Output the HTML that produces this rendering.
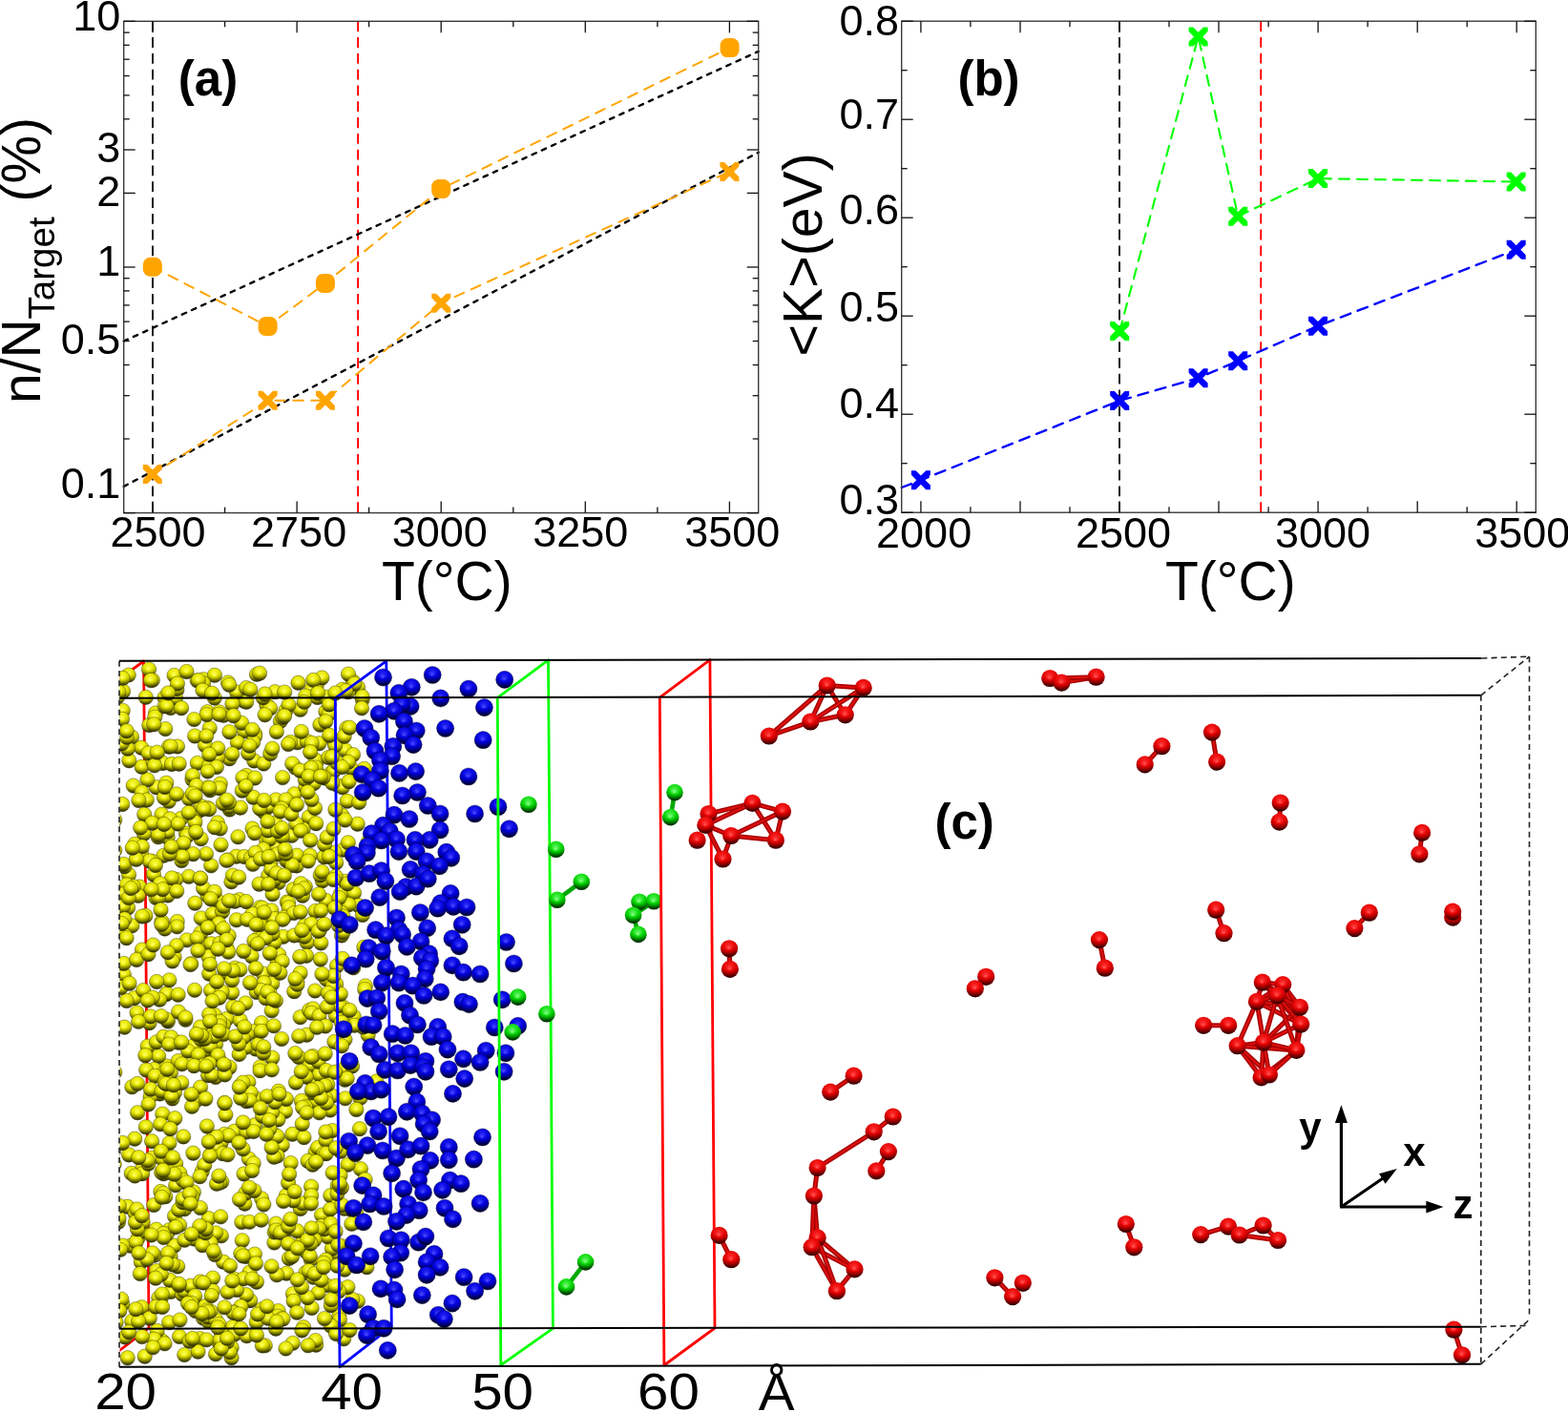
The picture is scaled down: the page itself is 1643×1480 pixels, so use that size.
<!DOCTYPE html>
<html><head><meta charset="utf-8"><title>Figure</title>
<style>html,body{margin:0;padding:0;background:#fff;overflow:hidden;}svg{display:block;}</style>
</head><body>
<svg width="1643" height="1480" viewBox="0 0 1643 1480">
<defs>
<radialGradient id="gy" cx="0.5" cy="-0.5" r="1.5" fx="0.47" fy="0.5"><stop offset="0" stop-color="#ffff78"/><stop offset="0.1" stop-color="#f4f428"/><stop offset="0.2" stop-color="#e4e404"/><stop offset="0.35" stop-color="#c4c400"/><stop offset="0.5" stop-color="#9a9a00"/><stop offset="0.65" stop-color="#727200"/><stop offset="0.82" stop-color="#484800"/><stop offset="1" stop-color="#282800"/></radialGradient>
<radialGradient id="gb" cx="0.5" cy="-0.5" r="1.5" fx="0.47" fy="0.5"><stop offset="0" stop-color="#5050ff"/><stop offset="0.1" stop-color="#1c1cf0"/><stop offset="0.2" stop-color="#0404e0"/><stop offset="0.35" stop-color="#0000c0"/><stop offset="0.5" stop-color="#000096"/><stop offset="0.65" stop-color="#00006e"/><stop offset="0.82" stop-color="#000044"/><stop offset="1" stop-color="#000024"/></radialGradient>
<radialGradient id="gr" cx="0.5" cy="-0.5" r="1.5" fx="0.47" fy="0.5"><stop offset="0" stop-color="#ff5a5a"/><stop offset="0.1" stop-color="#f82020"/><stop offset="0.2" stop-color="#e80808"/><stop offset="0.35" stop-color="#c80000"/><stop offset="0.5" stop-color="#a00000"/><stop offset="0.65" stop-color="#780000"/><stop offset="0.82" stop-color="#4c0000"/><stop offset="1" stop-color="#2a0000"/></radialGradient>
<radialGradient id="gg" cx="0.5" cy="-0.5" r="1.5" fx="0.47" fy="0.5"><stop offset="0" stop-color="#90ff90"/><stop offset="0.1" stop-color="#40ec40"/><stop offset="0.2" stop-color="#10dc10"/><stop offset="0.35" stop-color="#00bc00"/><stop offset="0.5" stop-color="#009400"/><stop offset="0.65" stop-color="#006800"/><stop offset="0.82" stop-color="#004000"/><stop offset="1" stop-color="#002200"/></radialGradient>
<clipPath id="cbox"><rect x="125.5" y="660" width="1500" height="800"/></clipPath>
</defs>
<rect width="1643" height="1480" fill="#fff"/>
<g id="pa">
<line x1="160" y1="22.3" x2="160" y2="537.6" stroke="#111" stroke-width="1.9" stroke-dasharray="10.8 6"/>
<line x1="375.1" y1="22.3" x2="375.1" y2="537.6" stroke="#f00" stroke-width="1.9" stroke-dasharray="10.8 6"/>
<polyline points="129.7,357.6 794.7,53.9" fill="none" stroke="#000" stroke-width="2.4" stroke-dasharray="4.6 6.6" stroke-linecap="round" stroke-linejoin="round"/>
<polyline points="129.7,509.9 794.7,159.8" fill="none" stroke="#000" stroke-width="2.4" stroke-dasharray="4.6 6.6" stroke-linecap="round" stroke-linejoin="round"/>
<polyline points="159.8,279.8 280.6,342 340.9,296.9 462.2,198 764.6,50.1" fill="none" stroke="#ffa500" stroke-width="2.0" stroke-dasharray="10.5 8.4" stroke-linecap="round" stroke-linejoin="round"/>
<polyline points="159.8,497.1 280.6,419.8 340.9,419.8 462.3,317.7 764.4,180" fill="none" stroke="#ffa500" stroke-width="2.0" stroke-dasharray="10.5 8.4" stroke-linecap="round" stroke-linejoin="round"/>
<rect x="149.8" y="269.8" width="20" height="20" rx="7.5" fill="#ffa500"/>
<rect x="270.6" y="332" width="20" height="20" rx="7.5" fill="#ffa500"/>
<rect x="330.9" y="286.9" width="20" height="20" rx="7.5" fill="#ffa500"/>
<rect x="452.2" y="188" width="20" height="20" rx="7.5" fill="#ffa500"/>
<rect x="754.6" y="40.1" width="20" height="20" rx="7.5" fill="#ffa500"/>
<polygon points="149.8,487.1 154.4,487.1 159.8,492.5 165.2,487.1 169.8,487.1 169.8,491.7 164.4,497.1 169.8,502.5 169.8,507.1 165.2,507.1 159.8,501.7 154.4,507.1 149.8,507.1 149.8,502.5 155.2,497.1 149.8,491.7" fill="#ffa500"/>
<polygon points="270.6,409.8 275.2,409.8 280.6,415.2 286,409.8 290.6,409.8 290.6,414.4 285.2,419.8 290.6,425.2 290.6,429.8 286,429.8 280.6,424.4 275.2,429.8 270.6,429.8 270.6,425.2 276,419.8 270.6,414.4" fill="#ffa500"/>
<polygon points="330.9,409.8 335.5,409.8 340.9,415.2 346.3,409.8 350.9,409.8 350.9,414.4 345.5,419.8 350.9,425.2 350.9,429.8 346.3,429.8 340.9,424.4 335.5,429.8 330.9,429.8 330.9,425.2 336.3,419.8 330.9,414.4" fill="#ffa500"/>
<polygon points="452.3,307.7 456.9,307.7 462.3,313.1 467.7,307.7 472.3,307.7 472.3,312.3 466.9,317.7 472.3,323.1 472.3,327.7 467.7,327.7 462.3,322.3 456.9,327.7 452.3,327.7 452.3,323.1 457.7,317.7 452.3,312.3" fill="#ffa500"/>
<polygon points="754.4,170 759,170 764.4,175.4 769.8,170 774.4,170 774.4,174.6 769,180 774.4,185.4 774.4,190 769.8,190 764.4,184.6 759,190 754.4,190 754.4,185.4 759.8,180 754.4,174.6" fill="#ffa500"/>
<rect x="129.7" y="22.3" width="665" height="515.3" fill="none" stroke="#3a3a3a" stroke-width="1.4"/>
<line x1="160" y1="537.6" x2="160" y2="525.6" stroke="#111" stroke-width="1.3" />
<line x1="160" y1="22.3" x2="160" y2="34.3" stroke="#111" stroke-width="1.3" />
<line x1="235.6" y1="537.6" x2="235.6" y2="531.6" stroke="#111" stroke-width="1.3" />
<line x1="235.6" y1="22.3" x2="235.6" y2="28.3" stroke="#111" stroke-width="1.3" />
<line x1="311.1" y1="537.6" x2="311.1" y2="525.6" stroke="#111" stroke-width="1.3" />
<line x1="311.1" y1="22.3" x2="311.1" y2="34.3" stroke="#111" stroke-width="1.3" />
<line x1="386.6" y1="537.6" x2="386.6" y2="531.6" stroke="#111" stroke-width="1.3" />
<line x1="386.6" y1="22.3" x2="386.6" y2="28.3" stroke="#111" stroke-width="1.3" />
<line x1="462.2" y1="537.6" x2="462.2" y2="525.6" stroke="#111" stroke-width="1.3" />
<line x1="462.2" y1="22.3" x2="462.2" y2="34.3" stroke="#111" stroke-width="1.3" />
<line x1="537.8" y1="537.6" x2="537.8" y2="531.6" stroke="#111" stroke-width="1.3" />
<line x1="537.8" y1="22.3" x2="537.8" y2="28.3" stroke="#111" stroke-width="1.3" />
<line x1="613.3" y1="537.6" x2="613.3" y2="525.6" stroke="#111" stroke-width="1.3" />
<line x1="613.3" y1="22.3" x2="613.3" y2="34.3" stroke="#111" stroke-width="1.3" />
<line x1="688.9" y1="537.6" x2="688.9" y2="531.6" stroke="#111" stroke-width="1.3" />
<line x1="688.9" y1="22.3" x2="688.9" y2="28.3" stroke="#111" stroke-width="1.3" />
<line x1="764.4" y1="537.6" x2="764.4" y2="525.6" stroke="#111" stroke-width="1.3" />
<line x1="764.4" y1="22.3" x2="764.4" y2="34.3" stroke="#111" stroke-width="1.3" />
<line x1="129.7" y1="537.6" x2="141.7" y2="537.6" stroke="#111" stroke-width="1.3" />
<line x1="794.7" y1="537.6" x2="782.7" y2="537.6" stroke="#111" stroke-width="1.3" />
<line x1="129.7" y1="460" x2="135.7" y2="460" stroke="#111" stroke-width="1.3" />
<line x1="794.7" y1="460" x2="788.7" y2="460" stroke="#111" stroke-width="1.3" />
<line x1="129.7" y1="414.7" x2="135.7" y2="414.7" stroke="#111" stroke-width="1.3" />
<line x1="794.7" y1="414.7" x2="788.7" y2="414.7" stroke="#111" stroke-width="1.3" />
<line x1="129.7" y1="382.5" x2="135.7" y2="382.5" stroke="#111" stroke-width="1.3" />
<line x1="794.7" y1="382.5" x2="788.7" y2="382.5" stroke="#111" stroke-width="1.3" />
<line x1="129.7" y1="357.5" x2="135.7" y2="357.5" stroke="#111" stroke-width="1.3" />
<line x1="794.7" y1="357.5" x2="788.7" y2="357.5" stroke="#111" stroke-width="1.3" />
<line x1="129.7" y1="337.1" x2="135.7" y2="337.1" stroke="#111" stroke-width="1.3" />
<line x1="794.7" y1="337.1" x2="788.7" y2="337.1" stroke="#111" stroke-width="1.3" />
<line x1="129.7" y1="319.9" x2="135.7" y2="319.9" stroke="#111" stroke-width="1.3" />
<line x1="794.7" y1="319.9" x2="788.7" y2="319.9" stroke="#111" stroke-width="1.3" />
<line x1="129.7" y1="304.9" x2="135.7" y2="304.9" stroke="#111" stroke-width="1.3" />
<line x1="794.7" y1="304.9" x2="788.7" y2="304.9" stroke="#111" stroke-width="1.3" />
<line x1="129.7" y1="291.7" x2="135.7" y2="291.7" stroke="#111" stroke-width="1.3" />
<line x1="794.7" y1="291.7" x2="788.7" y2="291.7" stroke="#111" stroke-width="1.3" />
<line x1="129.7" y1="280" x2="141.7" y2="280" stroke="#111" stroke-width="1.3" />
<line x1="794.7" y1="280" x2="782.7" y2="280" stroke="#111" stroke-width="1.3" />
<line x1="129.7" y1="202.4" x2="141.7" y2="202.4" stroke="#111" stroke-width="1.3" />
<line x1="794.7" y1="202.4" x2="782.7" y2="202.4" stroke="#111" stroke-width="1.3" />
<line x1="129.7" y1="157" x2="141.7" y2="157" stroke="#111" stroke-width="1.3" />
<line x1="794.7" y1="157" x2="782.7" y2="157" stroke="#111" stroke-width="1.3" />
<line x1="129.7" y1="124.8" x2="135.7" y2="124.8" stroke="#111" stroke-width="1.3" />
<line x1="794.7" y1="124.8" x2="788.7" y2="124.8" stroke="#111" stroke-width="1.3" />
<line x1="129.7" y1="99.9" x2="135.7" y2="99.9" stroke="#111" stroke-width="1.3" />
<line x1="794.7" y1="99.9" x2="788.7" y2="99.9" stroke="#111" stroke-width="1.3" />
<line x1="129.7" y1="79.5" x2="135.7" y2="79.5" stroke="#111" stroke-width="1.3" />
<line x1="794.7" y1="79.5" x2="788.7" y2="79.5" stroke="#111" stroke-width="1.3" />
<line x1="129.7" y1="62.2" x2="135.7" y2="62.2" stroke="#111" stroke-width="1.3" />
<line x1="794.7" y1="62.2" x2="788.7" y2="62.2" stroke="#111" stroke-width="1.3" />
<line x1="129.7" y1="47.3" x2="135.7" y2="47.3" stroke="#111" stroke-width="1.3" />
<line x1="794.7" y1="47.3" x2="788.7" y2="47.3" stroke="#111" stroke-width="1.3" />
<line x1="129.7" y1="34.1" x2="135.7" y2="34.1" stroke="#111" stroke-width="1.3" />
<line x1="794.7" y1="34.1" x2="788.7" y2="34.1" stroke="#111" stroke-width="1.3" />
<line x1="129.7" y1="22.3" x2="141.7" y2="22.3" stroke="#111" stroke-width="1.3" />
<line x1="794.7" y1="22.3" x2="782.7" y2="22.3" stroke="#111" stroke-width="1.3" />
</g>
<g id="pb">
<line x1="1173" y1="22.2" x2="1173" y2="537.2" stroke="#111" stroke-width="1.9" stroke-dasharray="10.8 6"/>
<line x1="1321.2" y1="22.2" x2="1321.2" y2="537.2" stroke="#f00" stroke-width="1.9" stroke-dasharray="10.8 6"/>
<polyline points="1173.2,347.1 1255.6,38.4 1297.2,226.7 1381,187.1 1588.7,190.5" fill="none" stroke="#00ff00" stroke-width="2.1" stroke-dasharray="11 8" stroke-linecap="round" stroke-linejoin="round"/>
<polyline points="944.7,511 964.9,503.2 1173.2,420 1255.6,396.2 1297.2,378.3 1381,341.7 1588.7,261.8" fill="none" stroke="#0000ff" stroke-width="2.4" stroke-dasharray="11 8" stroke-linecap="round" stroke-linejoin="round"/>
<polygon points="1163.2,337.1 1167.8,337.1 1173.2,342.5 1178.6,337.1 1183.2,337.1 1183.2,341.7 1177.8,347.1 1183.2,352.5 1183.2,357.1 1178.6,357.1 1173.2,351.7 1167.8,357.1 1163.2,357.1 1163.2,352.5 1168.6,347.1 1163.2,341.7" fill="#00ff00"/>
<polygon points="1245.6,28.4 1250.2,28.4 1255.6,33.8 1261,28.4 1265.6,28.4 1265.6,33 1260.2,38.4 1265.6,43.8 1265.6,48.4 1261,48.4 1255.6,43 1250.2,48.4 1245.6,48.4 1245.6,43.8 1251,38.4 1245.6,33" fill="#00ff00"/>
<polygon points="1287.2,216.7 1291.8,216.7 1297.2,222.1 1302.6,216.7 1307.2,216.7 1307.2,221.3 1301.8,226.7 1307.2,232.1 1307.2,236.7 1302.6,236.7 1297.2,231.3 1291.8,236.7 1287.2,236.7 1287.2,232.1 1292.6,226.7 1287.2,221.3" fill="#00ff00"/>
<polygon points="1371,177.1 1375.6,177.1 1381,182.5 1386.4,177.1 1391,177.1 1391,181.7 1385.6,187.1 1391,192.5 1391,197.1 1386.4,197.1 1381,191.7 1375.6,197.1 1371,197.1 1371,192.5 1376.4,187.1 1371,181.7" fill="#00ff00"/>
<polygon points="1578.7,180.5 1583.3,180.5 1588.7,185.9 1594.1,180.5 1598.7,180.5 1598.7,185.1 1593.3,190.5 1598.7,195.9 1598.7,200.5 1594.1,200.5 1588.7,195.1 1583.3,200.5 1578.7,200.5 1578.7,195.9 1584.1,190.5 1578.7,185.1" fill="#00ff00"/>
<polygon points="954.9,493.2 959.5,493.2 964.9,498.6 970.3,493.2 974.9,493.2 974.9,497.8 969.5,503.2 974.9,508.6 974.9,513.2 970.3,513.2 964.9,507.8 959.5,513.2 954.9,513.2 954.9,508.6 960.3,503.2 954.9,497.8" fill="#0000ff"/>
<polygon points="1163.2,410 1167.8,410 1173.2,415.4 1178.6,410 1183.2,410 1183.2,414.6 1177.8,420 1183.2,425.4 1183.2,430 1178.6,430 1173.2,424.6 1167.8,430 1163.2,430 1163.2,425.4 1168.6,420 1163.2,414.6" fill="#0000ff"/>
<polygon points="1245.6,386.2 1250.2,386.2 1255.6,391.6 1261,386.2 1265.6,386.2 1265.6,390.8 1260.2,396.2 1265.6,401.6 1265.6,406.2 1261,406.2 1255.6,400.8 1250.2,406.2 1245.6,406.2 1245.6,401.6 1251,396.2 1245.6,390.8" fill="#0000ff"/>
<polygon points="1287.2,368.3 1291.8,368.3 1297.2,373.7 1302.6,368.3 1307.2,368.3 1307.2,372.9 1301.8,378.3 1307.2,383.7 1307.2,388.3 1302.6,388.3 1297.2,382.9 1291.8,388.3 1287.2,388.3 1287.2,383.7 1292.6,378.3 1287.2,372.9" fill="#0000ff"/>
<polygon points="1371,331.7 1375.6,331.7 1381,337.1 1386.4,331.7 1391,331.7 1391,336.3 1385.6,341.7 1391,347.1 1391,351.7 1386.4,351.7 1381,346.3 1375.6,351.7 1371,351.7 1371,347.1 1376.4,341.7 1371,336.3" fill="#0000ff"/>
<polygon points="1578.7,251.8 1583.3,251.8 1588.7,257.2 1594.1,251.8 1598.7,251.8 1598.7,256.4 1593.3,261.8 1598.7,267.2 1598.7,271.8 1594.1,271.8 1588.7,266.4 1583.3,271.8 1578.7,271.8 1578.7,267.2 1584.1,261.8 1578.7,256.4" fill="#0000ff"/>
<rect x="944.7" y="22.2" width="664.6" height="515" fill="none" stroke="#3a3a3a" stroke-width="1.4"/>
<line x1="964.9" y1="537.2" x2="964.9" y2="525.2" stroke="#111" stroke-width="1.3" />
<line x1="964.9" y1="22.2" x2="964.9" y2="34.2" stroke="#111" stroke-width="1.3" />
<line x1="1016.9" y1="537.2" x2="1016.9" y2="531.2" stroke="#111" stroke-width="1.3" />
<line x1="1016.9" y1="22.2" x2="1016.9" y2="28.2" stroke="#111" stroke-width="1.3" />
<line x1="1069" y1="537.2" x2="1069" y2="525.2" stroke="#111" stroke-width="1.3" />
<line x1="1069" y1="22.2" x2="1069" y2="34.2" stroke="#111" stroke-width="1.3" />
<line x1="1121" y1="537.2" x2="1121" y2="531.2" stroke="#111" stroke-width="1.3" />
<line x1="1121" y1="22.2" x2="1121" y2="28.2" stroke="#111" stroke-width="1.3" />
<line x1="1173" y1="537.2" x2="1173" y2="525.2" stroke="#111" stroke-width="1.3" />
<line x1="1173" y1="22.2" x2="1173" y2="34.2" stroke="#111" stroke-width="1.3" />
<line x1="1225" y1="537.2" x2="1225" y2="531.2" stroke="#111" stroke-width="1.3" />
<line x1="1225" y1="22.2" x2="1225" y2="28.2" stroke="#111" stroke-width="1.3" />
<line x1="1277" y1="537.2" x2="1277" y2="525.2" stroke="#111" stroke-width="1.3" />
<line x1="1277" y1="22.2" x2="1277" y2="34.2" stroke="#111" stroke-width="1.3" />
<line x1="1329.1" y1="537.2" x2="1329.1" y2="531.2" stroke="#111" stroke-width="1.3" />
<line x1="1329.1" y1="22.2" x2="1329.1" y2="28.2" stroke="#111" stroke-width="1.3" />
<line x1="1381.1" y1="537.2" x2="1381.1" y2="525.2" stroke="#111" stroke-width="1.3" />
<line x1="1381.1" y1="22.2" x2="1381.1" y2="34.2" stroke="#111" stroke-width="1.3" />
<line x1="1433.1" y1="537.2" x2="1433.1" y2="531.2" stroke="#111" stroke-width="1.3" />
<line x1="1433.1" y1="22.2" x2="1433.1" y2="28.2" stroke="#111" stroke-width="1.3" />
<line x1="1485.2" y1="537.2" x2="1485.2" y2="525.2" stroke="#111" stroke-width="1.3" />
<line x1="1485.2" y1="22.2" x2="1485.2" y2="34.2" stroke="#111" stroke-width="1.3" />
<line x1="1537.2" y1="537.2" x2="1537.2" y2="531.2" stroke="#111" stroke-width="1.3" />
<line x1="1537.2" y1="22.2" x2="1537.2" y2="28.2" stroke="#111" stroke-width="1.3" />
<line x1="1589.2" y1="537.2" x2="1589.2" y2="525.2" stroke="#111" stroke-width="1.3" />
<line x1="1589.2" y1="22.2" x2="1589.2" y2="34.2" stroke="#111" stroke-width="1.3" />
<line x1="944.7" y1="537.2" x2="956.7" y2="537.2" stroke="#111" stroke-width="1.3" />
<line x1="1609.3" y1="537.2" x2="1597.3" y2="537.2" stroke="#111" stroke-width="1.3" />
<line x1="944.7" y1="485.7" x2="950.7" y2="485.7" stroke="#111" stroke-width="1.3" />
<line x1="1609.3" y1="485.7" x2="1603.3" y2="485.7" stroke="#111" stroke-width="1.3" />
<line x1="944.7" y1="434.2" x2="956.7" y2="434.2" stroke="#111" stroke-width="1.3" />
<line x1="1609.3" y1="434.2" x2="1597.3" y2="434.2" stroke="#111" stroke-width="1.3" />
<line x1="944.7" y1="382.7" x2="950.7" y2="382.7" stroke="#111" stroke-width="1.3" />
<line x1="1609.3" y1="382.7" x2="1603.3" y2="382.7" stroke="#111" stroke-width="1.3" />
<line x1="944.7" y1="331.2" x2="956.7" y2="331.2" stroke="#111" stroke-width="1.3" />
<line x1="1609.3" y1="331.2" x2="1597.3" y2="331.2" stroke="#111" stroke-width="1.3" />
<line x1="944.7" y1="279.7" x2="950.7" y2="279.7" stroke="#111" stroke-width="1.3" />
<line x1="1609.3" y1="279.7" x2="1603.3" y2="279.7" stroke="#111" stroke-width="1.3" />
<line x1="944.7" y1="228.2" x2="956.7" y2="228.2" stroke="#111" stroke-width="1.3" />
<line x1="1609.3" y1="228.2" x2="1597.3" y2="228.2" stroke="#111" stroke-width="1.3" />
<line x1="944.7" y1="176.7" x2="950.7" y2="176.7" stroke="#111" stroke-width="1.3" />
<line x1="1609.3" y1="176.7" x2="1603.3" y2="176.7" stroke="#111" stroke-width="1.3" />
<line x1="944.7" y1="125.2" x2="956.7" y2="125.2" stroke="#111" stroke-width="1.3" />
<line x1="1609.3" y1="125.2" x2="1597.3" y2="125.2" stroke="#111" stroke-width="1.3" />
<line x1="944.7" y1="73.7" x2="950.7" y2="73.7" stroke="#111" stroke-width="1.3" />
<line x1="1609.3" y1="73.7" x2="1603.3" y2="73.7" stroke="#111" stroke-width="1.3" />
<line x1="944.7" y1="22.2" x2="956.7" y2="22.2" stroke="#111" stroke-width="1.3" />
<line x1="1609.3" y1="22.2" x2="1597.3" y2="22.2" stroke="#111" stroke-width="1.3" />
</g>
<g font-family="'Liberation Sans', Arial, Helvetica, sans-serif" fill="#000">
<text transform="translate(126.3,32)" font-size="45" text-anchor="end" font-weight="normal">10</text>
<text transform="translate(126.3,169.6)" font-size="45" text-anchor="end" font-weight="normal">3</text>
<text transform="translate(126.3,215.6)" font-size="45" text-anchor="end" font-weight="normal">2</text>
<text transform="translate(126.3,289)" font-size="45" text-anchor="end" font-weight="normal">1</text>
<text transform="translate(126.3,370.7)" font-size="45" text-anchor="end" font-weight="normal">0.5</text>
<text transform="translate(126.3,521.8)" font-size="45" text-anchor="end" font-weight="normal">0.1</text>
<text transform="translate(165.5,573)" font-size="45" text-anchor="middle" font-weight="normal">2500</text>
<text transform="translate(313.1,573)" font-size="45" text-anchor="middle" font-weight="normal">2750</text>
<text transform="translate(460.8,573)" font-size="45" text-anchor="middle" font-weight="normal">3000</text>
<text transform="translate(608.3,573)" font-size="45" text-anchor="middle" font-weight="normal">3250</text>
<text transform="translate(767.2,573)" font-size="45" text-anchor="middle" font-weight="normal">3500</text>
<text transform="translate(468.4,629)" font-size="57" text-anchor="middle" font-weight="normal">T(°C)</text>
<text transform="translate(218,100)" font-size="51" text-anchor="middle" font-weight="bold">(a)</text>
<text transform="translate(41.5,423) rotate(-90)" font-size="56.9">n/N<tspan font-size="38.6" dy="15.7">Target</tspan><tspan dy="-15.7"> (%)</tspan></text>
<text transform="translate(942.1,36.6)" font-size="45" text-anchor="end" font-weight="normal">0.8</text>
<text transform="translate(942.1,135)" font-size="45" text-anchor="end" font-weight="normal">0.7</text>
<text transform="translate(942.1,235)" font-size="45" text-anchor="end" font-weight="normal">0.6</text>
<text transform="translate(942.1,336.5)" font-size="45" text-anchor="end" font-weight="normal">0.5</text>
<text transform="translate(942.1,438.3)" font-size="45" text-anchor="end" font-weight="normal">0.4</text>
<text transform="translate(942.1,538.7)" font-size="45" text-anchor="end" font-weight="normal">0.3</text>
<text transform="translate(968.1,573.8)" font-size="45" text-anchor="middle" font-weight="normal">2000</text>
<text transform="translate(1177,573.8)" font-size="45" text-anchor="middle" font-weight="normal">2500</text>
<text transform="translate(1386,573.8)" font-size="45" text-anchor="middle" font-weight="normal">3000</text>
<text transform="translate(1595.3,573.8)" font-size="45" text-anchor="middle" font-weight="normal">3500</text>
<text transform="translate(1289.4,629)" font-size="57" text-anchor="middle" font-weight="normal">T(°C)</text>
<text transform="translate(1036,100)" font-size="51" text-anchor="middle" font-weight="bold">(b)</text>
<text transform="translate(860.8,373.5) rotate(-90)" font-size="57.3">&lt;K&gt;(eV)</text>
</g>
<g clip-path="url(#cbox)">
<path d="M102.5,1432.8 L97.1,732.2 L150.6,693 L156,1392 Z" fill="none" stroke="#ff0000" stroke-width="2.8" stroke-linejoin="round"/>
<g stroke="#2c2c00" stroke-width="0.7" stroke-opacity="0.55"><circle cx="300.7" cy="945.5" r="7.7" fill="url(#gy)"/>
<circle cx="358.7" cy="1314.6" r="7.7" fill="url(#gy)"/>
<circle cx="352.2" cy="1031.5" r="7.7" fill="url(#gy)"/>
<circle cx="296.8" cy="981.9" r="7.7" fill="url(#gy)"/>
<circle cx="237.8" cy="1067.9" r="7.7" fill="url(#gy)"/>
<circle cx="337" cy="1273.6" r="7.7" fill="url(#gy)"/>
<circle cx="355.3" cy="1379.3" r="7.7" fill="url(#gy)"/>
<circle cx="210" cy="1139.7" r="7.7" fill="url(#gy)"/>
<circle cx="312.5" cy="715.8" r="7.7" fill="url(#gy)"/>
<circle cx="269" cy="1034.6" r="7.7" fill="url(#gy)"/>
<circle cx="359.7" cy="890.7" r="7.7" fill="url(#gy)"/>
<circle cx="341.4" cy="745.9" r="7.7" fill="url(#gy)"/>
<circle cx="206.6" cy="713.2" r="7.7" fill="url(#gy)"/>
<circle cx="217.4" cy="746.2" r="7.7" fill="url(#gy)"/>
<circle cx="163.9" cy="790.1" r="7.7" fill="url(#gy)"/>
<circle cx="367.1" cy="1267.6" r="7.7" fill="url(#gy)"/>
<circle cx="299" cy="1164.8" r="7.7" fill="url(#gy)"/>
<circle cx="270.7" cy="983.5" r="7.7" fill="url(#gy)"/>
<circle cx="260.8" cy="1214.6" r="7.7" fill="url(#gy)"/>
<circle cx="317" cy="938.8" r="7.7" fill="url(#gy)"/>
<circle cx="163.9" cy="1332.1" r="7.7" fill="url(#gy)"/>
<circle cx="360" cy="1055.9" r="7.7" fill="url(#gy)"/>
<circle cx="314.8" cy="1267" r="7.7" fill="url(#gy)"/>
<circle cx="150.4" cy="1040.2" r="7.7" fill="url(#gy)"/>
<circle cx="361.3" cy="1119.9" r="7.7" fill="url(#gy)"/>
<circle cx="163.8" cy="1288.7" r="7.7" fill="url(#gy)"/>
<circle cx="275.2" cy="962.2" r="7.7" fill="url(#gy)"/>
<circle cx="394.4" cy="1133.5" r="7.7" fill="url(#gy)"/>
<circle cx="185.3" cy="723.4" r="7.7" fill="url(#gy)"/>
<circle cx="247.8" cy="964.3" r="7.7" fill="url(#gy)"/>
<circle cx="288.5" cy="862.6" r="7.7" fill="url(#gy)"/>
<circle cx="175.7" cy="877.8" r="7.7" fill="url(#gy)"/>
<circle cx="149.2" cy="1224.9" r="7.7" fill="url(#gy)"/>
<circle cx="223.1" cy="1091.5" r="7.7" fill="url(#gy)"/>
<circle cx="330.5" cy="955" r="7.7" fill="url(#gy)"/>
<circle cx="314.6" cy="1066.3" r="7.7" fill="url(#gy)"/>
<circle cx="204.8" cy="1374" r="7.7" fill="url(#gy)"/>
<circle cx="227.6" cy="943.8" r="7.7" fill="url(#gy)"/>
<circle cx="167.6" cy="1146.5" r="7.7" fill="url(#gy)"/>
<circle cx="274.7" cy="1372.3" r="7.7" fill="url(#gy)"/>
<circle cx="260.4" cy="1134.3" r="7.7" fill="url(#gy)"/>
<circle cx="240.6" cy="848.5" r="7.7" fill="url(#gy)"/>
<circle cx="305.6" cy="875.9" r="7.7" fill="url(#gy)"/>
<circle cx="381.8" cy="805.9" r="7.7" fill="url(#gy)"/>
<circle cx="262.2" cy="1363.2" r="7.7" fill="url(#gy)"/>
<circle cx="318.9" cy="970.5" r="7.7" fill="url(#gy)"/>
<circle cx="373.6" cy="1272.9" r="7.7" fill="url(#gy)"/>
<circle cx="279.2" cy="880.5" r="7.7" fill="url(#gy)"/>
<circle cx="324.1" cy="1059" r="7.7" fill="url(#gy)"/>
<circle cx="315.2" cy="867.4" r="7.7" fill="url(#gy)"/>
<circle cx="276.6" cy="851" r="7.7" fill="url(#gy)"/>
<circle cx="182.6" cy="1305.7" r="7.7" fill="url(#gy)"/>
<circle cx="221.2" cy="907.4" r="7.7" fill="url(#gy)"/>
<circle cx="331.8" cy="718.4" r="7.7" fill="url(#gy)"/>
<circle cx="379.7" cy="733.4" r="7.7" fill="url(#gy)"/>
<circle cx="332.5" cy="809.8" r="7.7" fill="url(#gy)"/>
<circle cx="177.1" cy="1386.3" r="7.7" fill="url(#gy)"/>
<circle cx="174.6" cy="1117.5" r="7.7" fill="url(#gy)"/>
<circle cx="201.3" cy="1106.9" r="7.7" fill="url(#gy)"/>
<circle cx="337.8" cy="923.2" r="7.7" fill="url(#gy)"/>
<circle cx="197.8" cy="918.9" r="7.7" fill="url(#gy)"/>
<circle cx="361.7" cy="786.2" r="7.7" fill="url(#gy)"/>
<circle cx="213.6" cy="1091.2" r="7.7" fill="url(#gy)"/>
<circle cx="358" cy="980.6" r="7.7" fill="url(#gy)"/>
<circle cx="231.9" cy="1295.4" r="7.7" fill="url(#gy)"/>
<circle cx="325.7" cy="1320.1" r="7.7" fill="url(#gy)"/>
<circle cx="331.4" cy="1154.7" r="7.7" fill="url(#gy)"/>
<circle cx="281.7" cy="845.4" r="7.7" fill="url(#gy)"/>
<circle cx="240.5" cy="795.2" r="7.7" fill="url(#gy)"/>
<circle cx="377.9" cy="1225.3" r="7.7" fill="url(#gy)"/>
<circle cx="320.4" cy="1334" r="7.7" fill="url(#gy)"/>
<circle cx="337.4" cy="710.5" r="7.7" fill="url(#gy)"/>
<circle cx="210.6" cy="879.4" r="7.7" fill="url(#gy)"/>
<circle cx="210.6" cy="992.3" r="7.7" fill="url(#gy)"/>
<circle cx="257.6" cy="1317" r="7.7" fill="url(#gy)"/>
<circle cx="230.8" cy="821.6" r="7.7" fill="url(#gy)"/>
<circle cx="163.5" cy="941.1" r="7.7" fill="url(#gy)"/>
<circle cx="193.3" cy="1267.3" r="7.7" fill="url(#gy)"/>
<circle cx="202.9" cy="1362.2" r="7.7" fill="url(#gy)"/>
<circle cx="214.9" cy="781.2" r="7.7" fill="url(#gy)"/>
<circle cx="328.4" cy="1338.8" r="7.7" fill="url(#gy)"/>
<circle cx="245.5" cy="1340.7" r="7.7" fill="url(#gy)"/>
<circle cx="174.3" cy="1042.1" r="7.7" fill="url(#gy)"/>
<circle cx="171.4" cy="896.9" r="7.7" fill="url(#gy)"/>
<circle cx="211.8" cy="1227.7" r="7.7" fill="url(#gy)"/>
<circle cx="330.5" cy="1207.6" r="7.7" fill="url(#gy)"/>
<circle cx="310.8" cy="907.5" r="7.7" fill="url(#gy)"/>
<circle cx="291.7" cy="1193.9" r="7.7" fill="url(#gy)"/>
<circle cx="274" cy="1072.2" r="7.7" fill="url(#gy)"/>
<circle cx="178.4" cy="1317.1" r="7.7" fill="url(#gy)"/>
<circle cx="234.3" cy="749.8" r="7.7" fill="url(#gy)"/>
<circle cx="385.7" cy="1084.9" r="7.7" fill="url(#gy)"/>
<circle cx="333" cy="1202.9" r="7.7" fill="url(#gy)"/>
<circle cx="184.2" cy="1219.9" r="7.7" fill="url(#gy)"/>
<circle cx="182.6" cy="707.9" r="7.7" fill="url(#gy)"/>
<circle cx="235.9" cy="1019.3" r="7.7" fill="url(#gy)"/>
<circle cx="326.7" cy="1371.1" r="7.7" fill="url(#gy)"/>
<circle cx="306.4" cy="1188.8" r="7.7" fill="url(#gy)"/>
<circle cx="272.6" cy="951.2" r="7.7" fill="url(#gy)"/>
<circle cx="272.2" cy="847.5" r="7.7" fill="url(#gy)"/>
<circle cx="358.9" cy="722.7" r="7.7" fill="url(#gy)"/>
<circle cx="347.2" cy="810" r="7.7" fill="url(#gy)"/>
<circle cx="253.3" cy="1281.1" r="7.7" fill="url(#gy)"/>
<circle cx="179.3" cy="933.4" r="7.7" fill="url(#gy)"/>
<circle cx="344" cy="1320.3" r="7.7" fill="url(#gy)"/>
<circle cx="231.5" cy="885.6" r="7.7" fill="url(#gy)"/>
<circle cx="269" cy="706.9" r="7.7" fill="url(#gy)"/>
<circle cx="370.7" cy="1065.8" r="7.7" fill="url(#gy)"/>
<circle cx="159.6" cy="1213.6" r="7.7" fill="url(#gy)"/>
<circle cx="350.8" cy="893.6" r="7.7" fill="url(#gy)"/>
<circle cx="314.7" cy="743.9" r="7.7" fill="url(#gy)"/>
<circle cx="304.7" cy="1219.1" r="7.7" fill="url(#gy)"/>
<circle cx="161.5" cy="1315.8" r="7.7" fill="url(#gy)"/>
<circle cx="299.8" cy="1253.3" r="7.7" fill="url(#gy)"/>
<circle cx="148.5" cy="1370.3" r="7.7" fill="url(#gy)"/>
<circle cx="166.1" cy="1107" r="7.7" fill="url(#gy)"/>
<circle cx="300.2" cy="1334.7" r="7.7" fill="url(#gy)"/>
<circle cx="302.9" cy="1319" r="7.7" fill="url(#gy)"/>
<circle cx="151" cy="838.2" r="7.7" fill="url(#gy)"/>
<circle cx="323.8" cy="856.5" r="7.7" fill="url(#gy)"/>
<circle cx="267.9" cy="1151.2" r="7.7" fill="url(#gy)"/>
<circle cx="369.9" cy="714.3" r="7.7" fill="url(#gy)"/>
<circle cx="291.8" cy="925.1" r="7.7" fill="url(#gy)"/>
<circle cx="331.1" cy="1409.8" r="7.7" fill="url(#gy)"/>
<circle cx="353.2" cy="1313.3" r="7.7" fill="url(#gy)"/>
<circle cx="285.8" cy="880.5" r="7.7" fill="url(#gy)"/>
<circle cx="170.9" cy="1406.5" r="7.7" fill="url(#gy)"/>
<circle cx="227.9" cy="862.4" r="7.7" fill="url(#gy)"/>
<circle cx="341.5" cy="1195.1" r="7.7" fill="url(#gy)"/>
<circle cx="177.5" cy="1198.1" r="7.7" fill="url(#gy)"/>
<circle cx="174.7" cy="1041.6" r="7.7" fill="url(#gy)"/>
<circle cx="223.8" cy="1191.9" r="7.7" fill="url(#gy)"/>
<circle cx="307" cy="1356.2" r="7.7" fill="url(#gy)"/>
<circle cx="266.2" cy="797.5" r="7.7" fill="url(#gy)"/>
<circle cx="299.5" cy="744.7" r="7.7" fill="url(#gy)"/>
<circle cx="285.3" cy="1108.7" r="7.7" fill="url(#gy)"/>
<circle cx="255.8" cy="734.8" r="7.7" fill="url(#gy)"/>
<circle cx="211.5" cy="987.3" r="7.7" fill="url(#gy)"/>
<circle cx="326.4" cy="722.7" r="7.7" fill="url(#gy)"/>
<circle cx="289.2" cy="887.9" r="7.7" fill="url(#gy)"/>
<circle cx="347.9" cy="1308.7" r="7.7" fill="url(#gy)"/>
<circle cx="370" cy="791.1" r="7.7" fill="url(#gy)"/>
<circle cx="308.5" cy="832.3" r="7.7" fill="url(#gy)"/>
<circle cx="327.3" cy="1145.3" r="7.7" fill="url(#gy)"/>
<circle cx="364.8" cy="883.3" r="7.7" fill="url(#gy)"/>
<circle cx="144.8" cy="1297.4" r="7.7" fill="url(#gy)"/>
<circle cx="161.5" cy="1120.9" r="7.7" fill="url(#gy)"/>
<circle cx="284.7" cy="1059.4" r="7.7" fill="url(#gy)"/>
<circle cx="159.8" cy="1313.5" r="7.7" fill="url(#gy)"/>
<circle cx="223" cy="1339.6" r="7.7" fill="url(#gy)"/>
<circle cx="272.7" cy="1118.4" r="7.7" fill="url(#gy)"/>
<circle cx="315.9" cy="1153.9" r="7.7" fill="url(#gy)"/>
<circle cx="312.9" cy="1108" r="7.7" fill="url(#gy)"/>
<circle cx="348.3" cy="1185.1" r="7.7" fill="url(#gy)"/>
<circle cx="210.7" cy="962.4" r="7.7" fill="url(#gy)"/>
<circle cx="351.9" cy="1064.7" r="7.7" fill="url(#gy)"/>
<circle cx="365" cy="706.6" r="7.7" fill="url(#gy)"/>
<circle cx="311.7" cy="778.4" r="7.7" fill="url(#gy)"/>
<circle cx="353.7" cy="823.1" r="7.7" fill="url(#gy)"/>
<circle cx="343.3" cy="1296.4" r="7.7" fill="url(#gy)"/>
<circle cx="300.1" cy="902" r="7.7" fill="url(#gy)"/>
<circle cx="355.9" cy="1383.3" r="7.7" fill="url(#gy)"/>
<circle cx="342" cy="1347.1" r="7.7" fill="url(#gy)"/>
<circle cx="291.5" cy="1173.5" r="7.7" fill="url(#gy)"/>
<circle cx="216.9" cy="1100.5" r="7.7" fill="url(#gy)"/>
<circle cx="237.6" cy="993.6" r="7.7" fill="url(#gy)"/>
<circle cx="375.1" cy="720.4" r="7.7" fill="url(#gy)"/>
<circle cx="382.8" cy="1033.5" r="7.7" fill="url(#gy)"/>
<circle cx="217.5" cy="825.4" r="7.7" fill="url(#gy)"/>
<circle cx="192.2" cy="1191.5" r="7.7" fill="url(#gy)"/>
<circle cx="179" cy="1354" r="7.7" fill="url(#gy)"/>
<circle cx="171.9" cy="1124.2" r="7.7" fill="url(#gy)"/>
<circle cx="339.6" cy="898.2" r="7.7" fill="url(#gy)"/>
<circle cx="182.7" cy="1003.1" r="7.7" fill="url(#gy)"/>
<circle cx="341.9" cy="1026.4" r="7.7" fill="url(#gy)"/>
<circle cx="244.2" cy="1055.4" r="7.7" fill="url(#gy)"/>
<circle cx="225.9" cy="1129.1" r="7.7" fill="url(#gy)"/>
<circle cx="169.5" cy="853.8" r="7.7" fill="url(#gy)"/>
<circle cx="290.1" cy="1336.4" r="7.7" fill="url(#gy)"/>
<circle cx="195" cy="873.6" r="7.7" fill="url(#gy)"/>
<circle cx="371.7" cy="810.5" r="7.7" fill="url(#gy)"/>
<circle cx="230.7" cy="868.6" r="7.7" fill="url(#gy)"/>
<circle cx="222.8" cy="957.9" r="7.7" fill="url(#gy)"/>
<circle cx="341.2" cy="1320.6" r="7.7" fill="url(#gy)"/>
<circle cx="262.8" cy="1145.4" r="7.7" fill="url(#gy)"/>
<circle cx="188" cy="887.9" r="7.7" fill="url(#gy)"/>
<circle cx="258.3" cy="1154.4" r="7.7" fill="url(#gy)"/>
<circle cx="199.7" cy="851.9" r="7.7" fill="url(#gy)"/>
<circle cx="205.5" cy="1153.6" r="7.7" fill="url(#gy)"/>
<circle cx="206.8" cy="799.9" r="7.7" fill="url(#gy)"/>
<circle cx="161" cy="916.7" r="7.7" fill="url(#gy)"/>
<circle cx="361.4" cy="923.9" r="7.7" fill="url(#gy)"/>
<circle cx="186.7" cy="1112.1" r="7.7" fill="url(#gy)"/>
<circle cx="218.1" cy="1127.2" r="7.7" fill="url(#gy)"/>
<circle cx="184.2" cy="921.8" r="7.7" fill="url(#gy)"/>
<circle cx="201.4" cy="816.7" r="7.7" fill="url(#gy)"/>
<circle cx="176" cy="1070.5" r="7.7" fill="url(#gy)"/>
<circle cx="302.2" cy="1288" r="7.7" fill="url(#gy)"/>
<circle cx="289.1" cy="838.4" r="7.7" fill="url(#gy)"/>
<circle cx="230.2" cy="970.6" r="7.7" fill="url(#gy)"/>
<circle cx="258.1" cy="1357.2" r="7.7" fill="url(#gy)"/>
<circle cx="363.6" cy="938.7" r="7.7" fill="url(#gy)"/>
<circle cx="204.3" cy="946.8" r="7.7" fill="url(#gy)"/>
<circle cx="306.8" cy="1407.9" r="7.7" fill="url(#gy)"/>
<circle cx="227.1" cy="793.7" r="7.7" fill="url(#gy)"/>
<circle cx="156" cy="701.6" r="7.7" fill="url(#gy)"/>
<circle cx="177.4" cy="1289.3" r="7.7" fill="url(#gy)"/>
<circle cx="256.1" cy="766.4" r="7.7" fill="url(#gy)"/>
<circle cx="372.8" cy="1281.1" r="7.7" fill="url(#gy)"/>
<circle cx="168.8" cy="1360.8" r="7.7" fill="url(#gy)"/>
<circle cx="290.5" cy="1007" r="7.7" fill="url(#gy)"/>
<circle cx="231.6" cy="1197.7" r="7.7" fill="url(#gy)"/>
<circle cx="239.8" cy="845.8" r="7.7" fill="url(#gy)"/>
<circle cx="190.9" cy="1356.5" r="7.7" fill="url(#gy)"/>
<circle cx="266.9" cy="1179.3" r="7.7" fill="url(#gy)"/>
<circle cx="187.1" cy="1092.9" r="7.7" fill="url(#gy)"/>
<circle cx="239.7" cy="980.9" r="7.7" fill="url(#gy)"/>
<circle cx="328.1" cy="1057.4" r="7.7" fill="url(#gy)"/>
<circle cx="279.3" cy="738.7" r="7.7" fill="url(#gy)"/>
<circle cx="317.7" cy="869.3" r="7.7" fill="url(#gy)"/>
<circle cx="228" cy="794" r="7.7" fill="url(#gy)"/>
<circle cx="140.6" cy="1046.2" r="7.7" fill="url(#gy)"/>
<circle cx="192.9" cy="1353.4" r="7.7" fill="url(#gy)"/>
<circle cx="316.9" cy="1261.4" r="7.7" fill="url(#gy)"/>
<circle cx="203.4" cy="1298.6" r="7.7" fill="url(#gy)"/>
<circle cx="178.9" cy="1124.5" r="7.7" fill="url(#gy)"/>
<circle cx="355.7" cy="1054" r="7.7" fill="url(#gy)"/>
<circle cx="247.6" cy="897.8" r="7.7" fill="url(#gy)"/>
<circle cx="282.4" cy="879.6" r="7.7" fill="url(#gy)"/>
<circle cx="320" cy="1160.2" r="7.7" fill="url(#gy)"/>
<circle cx="195.7" cy="985.4" r="7.7" fill="url(#gy)"/>
<circle cx="283.5" cy="904.5" r="7.7" fill="url(#gy)"/>
<circle cx="381.4" cy="992.8" r="7.7" fill="url(#gy)"/>
<circle cx="174.7" cy="1293.6" r="7.7" fill="url(#gy)"/>
<circle cx="367.7" cy="804.9" r="7.7" fill="url(#gy)"/>
<circle cx="341.3" cy="1186.5" r="7.7" fill="url(#gy)"/>
<circle cx="361.5" cy="1131.9" r="7.7" fill="url(#gy)"/>
<circle cx="330.1" cy="1038.6" r="7.7" fill="url(#gy)"/>
<circle cx="358.9" cy="825.2" r="7.7" fill="url(#gy)"/>
<circle cx="247.3" cy="1377" r="7.7" fill="url(#gy)"/>
<circle cx="218.9" cy="803.4" r="7.7" fill="url(#gy)"/>
<circle cx="224.9" cy="867.3" r="7.7" fill="url(#gy)"/>
<circle cx="377.5" cy="1150.9" r="7.7" fill="url(#gy)"/>
<circle cx="226.9" cy="804" r="7.7" fill="url(#gy)"/>
<circle cx="363.6" cy="1315.6" r="7.7" fill="url(#gy)"/>
<circle cx="173.3" cy="1254.2" r="7.7" fill="url(#gy)"/>
<circle cx="299.9" cy="1152" r="7.7" fill="url(#gy)"/>
<circle cx="230.9" cy="1408.2" r="7.7" fill="url(#gy)"/>
<circle cx="320.4" cy="1311.5" r="7.7" fill="url(#gy)"/>
<circle cx="226.8" cy="1202.6" r="7.7" fill="url(#gy)"/>
<circle cx="267.8" cy="1099.5" r="7.7" fill="url(#gy)"/>
<circle cx="197.7" cy="1112.3" r="7.7" fill="url(#gy)"/>
<circle cx="178.7" cy="742.1" r="7.7" fill="url(#gy)"/>
<circle cx="274.1" cy="1256.4" r="7.7" fill="url(#gy)"/>
<circle cx="236.4" cy="1168.6" r="7.7" fill="url(#gy)"/>
<circle cx="148.8" cy="1290.8" r="7.7" fill="url(#gy)"/>
<circle cx="220.5" cy="1210.5" r="7.7" fill="url(#gy)"/>
<circle cx="334.5" cy="779.3" r="7.7" fill="url(#gy)"/>
<circle cx="346.8" cy="1389.7" r="7.7" fill="url(#gy)"/>
<circle cx="349.9" cy="776.8" r="7.7" fill="url(#gy)"/>
<circle cx="254.5" cy="1092.4" r="7.7" fill="url(#gy)"/>
<circle cx="311.4" cy="1290.3" r="7.7" fill="url(#gy)"/>
<circle cx="326.4" cy="1061.7" r="7.7" fill="url(#gy)"/>
<circle cx="335.7" cy="917.5" r="7.7" fill="url(#gy)"/>
<circle cx="169" cy="1405" r="7.7" fill="url(#gy)"/>
<circle cx="163.7" cy="825.2" r="7.7" fill="url(#gy)"/>
<circle cx="212.9" cy="1381.6" r="7.7" fill="url(#gy)"/>
<circle cx="370.3" cy="1014.4" r="7.7" fill="url(#gy)"/>
<circle cx="257.4" cy="1097.9" r="7.7" fill="url(#gy)"/>
<circle cx="177.9" cy="1341.8" r="7.7" fill="url(#gy)"/>
<circle cx="234.2" cy="1074.2" r="7.7" fill="url(#gy)"/>
<circle cx="376.9" cy="1183.3" r="7.7" fill="url(#gy)"/>
<circle cx="302.1" cy="946.2" r="7.7" fill="url(#gy)"/>
<circle cx="301.6" cy="901.3" r="7.7" fill="url(#gy)"/>
<circle cx="347" cy="898.7" r="7.7" fill="url(#gy)"/>
<circle cx="299.5" cy="838.4" r="7.7" fill="url(#gy)"/>
<circle cx="364.4" cy="1220.9" r="7.7" fill="url(#gy)"/>
<circle cx="351.1" cy="781.4" r="7.7" fill="url(#gy)"/>
<circle cx="374.7" cy="863.7" r="7.7" fill="url(#gy)"/>
<circle cx="146.1" cy="929.5" r="7.7" fill="url(#gy)"/>
<circle cx="314.4" cy="1305.1" r="7.7" fill="url(#gy)"/>
<circle cx="159.1" cy="1196.3" r="7.7" fill="url(#gy)"/>
<circle cx="265.3" cy="1081.2" r="7.7" fill="url(#gy)"/>
<circle cx="171.3" cy="1293" r="7.7" fill="url(#gy)"/>
<circle cx="255.5" cy="1230.5" r="7.7" fill="url(#gy)"/>
<circle cx="233.4" cy="1209.2" r="7.7" fill="url(#gy)"/>
<circle cx="346.1" cy="1163.5" r="7.7" fill="url(#gy)"/>
<circle cx="220" cy="828.3" r="7.7" fill="url(#gy)"/>
<circle cx="202.4" cy="1208.7" r="7.7" fill="url(#gy)"/>
<circle cx="201.8" cy="813" r="7.7" fill="url(#gy)"/>
<circle cx="194.4" cy="1068.9" r="7.7" fill="url(#gy)"/>
<circle cx="385.5" cy="883" r="7.7" fill="url(#gy)"/>
<circle cx="326.1" cy="1243.7" r="7.7" fill="url(#gy)"/>
<circle cx="175.9" cy="938.5" r="7.7" fill="url(#gy)"/>
<circle cx="348.2" cy="1148.7" r="7.7" fill="url(#gy)"/>
<circle cx="346.3" cy="1253.2" r="7.7" fill="url(#gy)"/>
<circle cx="180" cy="920.4" r="7.7" fill="url(#gy)"/>
<circle cx="153.2" cy="1121.6" r="7.7" fill="url(#gy)"/>
<circle cx="309.4" cy="804.6" r="7.7" fill="url(#gy)"/>
<circle cx="184" cy="731.6" r="7.7" fill="url(#gy)"/>
<circle cx="199.6" cy="1347.7" r="7.7" fill="url(#gy)"/>
<circle cx="334.5" cy="1064.7" r="7.7" fill="url(#gy)"/>
<circle cx="205.7" cy="823.4" r="7.7" fill="url(#gy)"/>
<circle cx="157.5" cy="1149.4" r="7.7" fill="url(#gy)"/>
<circle cx="209.4" cy="1403.2" r="7.7" fill="url(#gy)"/>
<circle cx="178.4" cy="1317.2" r="7.7" fill="url(#gy)"/>
<circle cx="188.3" cy="1229.7" r="7.7" fill="url(#gy)"/>
<circle cx="245.6" cy="1185.8" r="7.7" fill="url(#gy)"/>
<circle cx="364.6" cy="725.4" r="7.7" fill="url(#gy)"/>
<circle cx="281.2" cy="917.9" r="7.7" fill="url(#gy)"/>
<circle cx="219.7" cy="763.2" r="7.7" fill="url(#gy)"/>
<circle cx="210.4" cy="977.9" r="7.7" fill="url(#gy)"/>
<circle cx="361.5" cy="1089.6" r="7.7" fill="url(#gy)"/>
<circle cx="149.7" cy="1281.1" r="7.7" fill="url(#gy)"/>
<circle cx="268.7" cy="1040" r="7.7" fill="url(#gy)"/>
<circle cx="185.1" cy="722" r="7.7" fill="url(#gy)"/>
<circle cx="216" cy="895.1" r="7.7" fill="url(#gy)"/>
<circle cx="200.3" cy="1010.1" r="7.7" fill="url(#gy)"/>
<circle cx="360.2" cy="1403.4" r="7.7" fill="url(#gy)"/>
<circle cx="359.5" cy="977.3" r="7.7" fill="url(#gy)"/>
<circle cx="136.9" cy="1305.8" r="7.7" fill="url(#gy)"/>
<circle cx="276.3" cy="800.6" r="7.7" fill="url(#gy)"/>
<circle cx="295.7" cy="876.7" r="7.7" fill="url(#gy)"/>
<circle cx="202.9" cy="1096.1" r="7.7" fill="url(#gy)"/>
<circle cx="232.3" cy="1238.7" r="7.7" fill="url(#gy)"/>
<circle cx="258.2" cy="735.8" r="7.7" fill="url(#gy)"/>
<circle cx="150.9" cy="873.7" r="7.7" fill="url(#gy)"/>
<circle cx="311.1" cy="896.7" r="7.7" fill="url(#gy)"/>
<circle cx="252.4" cy="1369.5" r="7.7" fill="url(#gy)"/>
<circle cx="250.8" cy="943.1" r="7.7" fill="url(#gy)"/>
<circle cx="213.1" cy="712.2" r="7.7" fill="url(#gy)"/>
<circle cx="290.8" cy="895.2" r="7.7" fill="url(#gy)"/>
<circle cx="349.8" cy="808.2" r="7.7" fill="url(#gy)"/>
<circle cx="340.1" cy="885.2" r="7.7" fill="url(#gy)"/>
<circle cx="248.8" cy="778.2" r="7.7" fill="url(#gy)"/>
<circle cx="382.6" cy="1236.5" r="7.7" fill="url(#gy)"/>
<circle cx="163" cy="747.5" r="7.7" fill="url(#gy)"/>
<circle cx="353" cy="1012.5" r="7.7" fill="url(#gy)"/>
<circle cx="286.3" cy="1188.5" r="7.7" fill="url(#gy)"/>
<circle cx="238.7" cy="901.4" r="7.7" fill="url(#gy)"/>
<circle cx="261.7" cy="1153.5" r="7.7" fill="url(#gy)"/>
<circle cx="295.7" cy="1200.2" r="7.7" fill="url(#gy)"/>
<circle cx="306.3" cy="907" r="7.7" fill="url(#gy)"/>
<circle cx="341.7" cy="944" r="7.7" fill="url(#gy)"/>
<circle cx="240.5" cy="1118.7" r="7.7" fill="url(#gy)"/>
<circle cx="135" cy="916.9" r="7.7" fill="url(#gy)"/>
<circle cx="384.4" cy="1328.2" r="7.7" fill="url(#gy)"/>
<circle cx="340" cy="1382.1" r="7.7" fill="url(#gy)"/>
<circle cx="143.5" cy="1061.6" r="7.7" fill="url(#gy)"/>
<circle cx="192.3" cy="1238.7" r="7.7" fill="url(#gy)"/>
<circle cx="171.4" cy="1230.3" r="7.7" fill="url(#gy)"/>
<circle cx="314.8" cy="980.3" r="7.7" fill="url(#gy)"/>
<circle cx="233" cy="955.5" r="7.7" fill="url(#gy)"/>
<circle cx="164.6" cy="1395" r="7.7" fill="url(#gy)"/>
<circle cx="275.7" cy="1020.6" r="7.7" fill="url(#gy)"/>
<circle cx="310.3" cy="863.4" r="7.7" fill="url(#gy)"/>
<circle cx="371" cy="936" r="7.7" fill="url(#gy)"/>
<circle cx="242.4" cy="924.3" r="7.7" fill="url(#gy)"/>
<circle cx="302.6" cy="951.2" r="7.7" fill="url(#gy)"/>
<circle cx="233.5" cy="1041" r="7.7" fill="url(#gy)"/>
<circle cx="251.9" cy="846.7" r="7.7" fill="url(#gy)"/>
<circle cx="215.4" cy="1151.7" r="7.7" fill="url(#gy)"/>
<circle cx="230.2" cy="1392.9" r="7.7" fill="url(#gy)"/>
<circle cx="267.1" cy="769.1" r="7.7" fill="url(#gy)"/>
<circle cx="198" cy="837.1" r="7.7" fill="url(#gy)"/>
<circle cx="208.3" cy="850" r="7.7" fill="url(#gy)"/>
<circle cx="315" cy="870.9" r="7.7" fill="url(#gy)"/>
<circle cx="202.4" cy="895.2" r="7.7" fill="url(#gy)"/>
<circle cx="324.8" cy="896.7" r="7.7" fill="url(#gy)"/>
<circle cx="204.8" cy="872.7" r="7.7" fill="url(#gy)"/>
<circle cx="321.7" cy="987.9" r="7.7" fill="url(#gy)"/>
<circle cx="360.7" cy="1266.9" r="7.7" fill="url(#gy)"/>
<circle cx="186.6" cy="1042.7" r="7.7" fill="url(#gy)"/>
<circle cx="327.7" cy="1111.7" r="7.7" fill="url(#gy)"/>
<circle cx="285.3" cy="1031" r="7.7" fill="url(#gy)"/>
<circle cx="216.6" cy="749.1" r="7.7" fill="url(#gy)"/>
<circle cx="382.2" cy="1037" r="7.7" fill="url(#gy)"/>
<circle cx="229.1" cy="968" r="7.7" fill="url(#gy)"/>
<circle cx="174.3" cy="820.7" r="7.7" fill="url(#gy)"/>
<circle cx="321.6" cy="820.6" r="7.7" fill="url(#gy)"/>
<circle cx="263.6" cy="1002.3" r="7.7" fill="url(#gy)"/>
<circle cx="168.8" cy="1335.7" r="7.7" fill="url(#gy)"/>
<circle cx="149.1" cy="1230.2" r="7.7" fill="url(#gy)"/>
<circle cx="246.2" cy="1014.8" r="7.7" fill="url(#gy)"/>
<circle cx="333.4" cy="1355.2" r="7.7" fill="url(#gy)"/>
<circle cx="285.6" cy="937.2" r="7.7" fill="url(#gy)"/>
<circle cx="144.9" cy="938.9" r="7.7" fill="url(#gy)"/>
<circle cx="226.1" cy="1292.4" r="7.7" fill="url(#gy)"/>
<circle cx="334" cy="937.4" r="7.7" fill="url(#gy)"/>
<circle cx="270.7" cy="1094.8" r="7.7" fill="url(#gy)"/>
<circle cx="196" cy="876.2" r="7.7" fill="url(#gy)"/>
<circle cx="308.2" cy="1039.2" r="7.7" fill="url(#gy)"/>
<circle cx="235.1" cy="1188.9" r="7.7" fill="url(#gy)"/>
<circle cx="162.3" cy="1127.8" r="7.7" fill="url(#gy)"/>
<circle cx="271.6" cy="926.7" r="7.7" fill="url(#gy)"/>
<circle cx="244.7" cy="1375.4" r="7.7" fill="url(#gy)"/>
<circle cx="234" cy="1322.7" r="7.7" fill="url(#gy)"/>
<circle cx="274.9" cy="951.8" r="7.7" fill="url(#gy)"/>
<circle cx="292.1" cy="1000.6" r="7.7" fill="url(#gy)"/>
<circle cx="356.8" cy="1042" r="7.7" fill="url(#gy)"/>
<circle cx="291.6" cy="1374.1" r="7.7" fill="url(#gy)"/>
<circle cx="142.6" cy="1302" r="7.7" fill="url(#gy)"/>
<circle cx="207.5" cy="1416.8" r="7.7" fill="url(#gy)"/>
<circle cx="202.9" cy="1249.5" r="7.7" fill="url(#gy)"/>
<circle cx="363.3" cy="763.3" r="7.7" fill="url(#gy)"/>
<circle cx="154.4" cy="817.3" r="7.7" fill="url(#gy)"/>
<circle cx="226.1" cy="1094.6" r="7.7" fill="url(#gy)"/>
<circle cx="340" cy="1288.4" r="7.7" fill="url(#gy)"/>
<circle cx="353.3" cy="1263.8" r="7.7" fill="url(#gy)"/>
<circle cx="346.8" cy="1368.2" r="7.7" fill="url(#gy)"/>
<circle cx="138.3" cy="1139.4" r="7.7" fill="url(#gy)"/>
<circle cx="218.8" cy="1277.2" r="7.7" fill="url(#gy)"/>
<circle cx="234.2" cy="950.1" r="7.7" fill="url(#gy)"/>
<circle cx="220.3" cy="1096.9" r="7.7" fill="url(#gy)"/>
<circle cx="330.9" cy="728.2" r="7.7" fill="url(#gy)"/>
<circle cx="335.4" cy="759.7" r="7.7" fill="url(#gy)"/>
<circle cx="250.6" cy="1105.1" r="7.7" fill="url(#gy)"/>
<circle cx="371.4" cy="716.8" r="7.7" fill="url(#gy)"/>
<circle cx="307.4" cy="1258.5" r="7.7" fill="url(#gy)"/>
<circle cx="134.7" cy="707.6" r="7.7" fill="url(#gy)"/>
<circle cx="223.8" cy="1082.6" r="7.7" fill="url(#gy)"/>
<circle cx="204.1" cy="771.5" r="7.7" fill="url(#gy)"/>
<circle cx="284.5" cy="954.4" r="7.7" fill="url(#gy)"/>
<circle cx="231.2" cy="1275.4" r="7.7" fill="url(#gy)"/>
<circle cx="217.4" cy="938.5" r="7.7" fill="url(#gy)"/>
<circle cx="177" cy="782.7" r="7.7" fill="url(#gy)"/>
<circle cx="246" cy="944.8" r="7.7" fill="url(#gy)"/>
<circle cx="339.6" cy="1208.9" r="7.7" fill="url(#gy)"/>
<circle cx="221.3" cy="989.2" r="7.7" fill="url(#gy)"/>
<circle cx="290.3" cy="1191" r="7.7" fill="url(#gy)"/>
<circle cx="346.1" cy="1267.6" r="7.7" fill="url(#gy)"/>
<circle cx="360" cy="1306.5" r="7.7" fill="url(#gy)"/>
<circle cx="243.6" cy="1391.2" r="7.7" fill="url(#gy)"/>
<circle cx="224.9" cy="1064" r="7.7" fill="url(#gy)"/>
<circle cx="340.5" cy="815.5" r="7.7" fill="url(#gy)"/>
<circle cx="302.1" cy="1239.8" r="7.7" fill="url(#gy)"/>
<circle cx="185.7" cy="966" r="7.7" fill="url(#gy)"/>
<circle cx="224.8" cy="731.6" r="7.7" fill="url(#gy)"/>
<circle cx="302.5" cy="738.9" r="7.7" fill="url(#gy)"/>
<circle cx="293.9" cy="755.9" r="7.7" fill="url(#gy)"/>
<circle cx="287" cy="1152.7" r="7.7" fill="url(#gy)"/>
<circle cx="275" cy="1169.8" r="7.7" fill="url(#gy)"/>
<circle cx="255.9" cy="898" r="7.7" fill="url(#gy)"/>
<circle cx="213.1" cy="931" r="7.7" fill="url(#gy)"/>
<circle cx="154.7" cy="1096.7" r="7.7" fill="url(#gy)"/>
<circle cx="295.2" cy="847.5" r="7.7" fill="url(#gy)"/>
<circle cx="379.7" cy="730.4" r="7.7" fill="url(#gy)"/>
<circle cx="375.7" cy="949.2" r="7.7" fill="url(#gy)"/>
<circle cx="218.3" cy="1385.2" r="7.7" fill="url(#gy)"/>
<circle cx="276.7" cy="1030.2" r="7.7" fill="url(#gy)"/>
<circle cx="244.6" cy="1375.9" r="7.7" fill="url(#gy)"/>
<circle cx="321.9" cy="777" r="7.7" fill="url(#gy)"/>
<circle cx="176.8" cy="839.9" r="7.7" fill="url(#gy)"/>
<circle cx="139.7" cy="823.6" r="7.7" fill="url(#gy)"/>
<circle cx="195.5" cy="704" r="7.7" fill="url(#gy)"/>
<circle cx="180.6" cy="1151.5" r="7.7" fill="url(#gy)"/>
<circle cx="186.2" cy="1327.5" r="7.7" fill="url(#gy)"/>
<circle cx="148.9" cy="995.6" r="7.7" fill="url(#gy)"/>
<circle cx="336.5" cy="1341.8" r="7.7" fill="url(#gy)"/>
<circle cx="243.9" cy="917.6" r="7.7" fill="url(#gy)"/>
<circle cx="290.6" cy="1211.6" r="7.7" fill="url(#gy)"/>
<circle cx="224.9" cy="707.8" r="7.7" fill="url(#gy)"/>
<circle cx="230.3" cy="1070.9" r="7.7" fill="url(#gy)"/>
<circle cx="358.8" cy="1004.9" r="7.7" fill="url(#gy)"/>
<circle cx="148.6" cy="830.3" r="7.7" fill="url(#gy)"/>
<circle cx="365.4" cy="970" r="7.7" fill="url(#gy)"/>
<circle cx="234.2" cy="1084" r="7.7" fill="url(#gy)"/>
<circle cx="379.9" cy="959.1" r="7.7" fill="url(#gy)"/>
<circle cx="213.1" cy="716.2" r="7.7" fill="url(#gy)"/>
<circle cx="363.8" cy="839.8" r="7.7" fill="url(#gy)"/>
<circle cx="217.9" cy="972" r="7.7" fill="url(#gy)"/>
<circle cx="229" cy="1406.3" r="7.7" fill="url(#gy)"/>
<circle cx="239.6" cy="1190.3" r="7.7" fill="url(#gy)"/>
<circle cx="265.7" cy="1219.5" r="7.7" fill="url(#gy)"/>
<circle cx="261.7" cy="1333.4" r="7.7" fill="url(#gy)"/>
<circle cx="352.1" cy="1398" r="7.7" fill="url(#gy)"/>
<circle cx="156.5" cy="1072.2" r="7.7" fill="url(#gy)"/>
<circle cx="353.7" cy="1243" r="7.7" fill="url(#gy)"/>
<circle cx="183" cy="1274.7" r="7.7" fill="url(#gy)"/>
<circle cx="206.6" cy="983.4" r="7.7" fill="url(#gy)"/>
<circle cx="218.4" cy="1002.6" r="7.7" fill="url(#gy)"/>
<circle cx="217.5" cy="1380.5" r="7.7" fill="url(#gy)"/>
<circle cx="228.3" cy="784.5" r="7.7" fill="url(#gy)"/>
<circle cx="229.8" cy="1075.4" r="7.7" fill="url(#gy)"/>
<circle cx="141.2" cy="1193.7" r="7.7" fill="url(#gy)"/>
<circle cx="379" cy="742.4" r="7.7" fill="url(#gy)"/>
<circle cx="212.2" cy="1290.7" r="7.7" fill="url(#gy)"/>
<circle cx="361.1" cy="1330.7" r="7.7" fill="url(#gy)"/>
<circle cx="320.2" cy="729.6" r="7.7" fill="url(#gy)"/>
<circle cx="219.2" cy="1063.3" r="7.7" fill="url(#gy)"/>
<circle cx="323.6" cy="1332" r="7.7" fill="url(#gy)"/>
<circle cx="166.3" cy="1360.5" r="7.7" fill="url(#gy)"/>
<circle cx="190.3" cy="902.1" r="7.7" fill="url(#gy)"/>
<circle cx="348.8" cy="1033.1" r="7.7" fill="url(#gy)"/>
<circle cx="209.9" cy="1076.5" r="7.7" fill="url(#gy)"/>
<circle cx="139.8" cy="929.2" r="7.7" fill="url(#gy)"/>
<circle cx="326.7" cy="778.9" r="7.7" fill="url(#gy)"/>
<circle cx="224.8" cy="934.8" r="7.7" fill="url(#gy)"/>
<circle cx="332.6" cy="731" r="7.7" fill="url(#gy)"/>
<circle cx="239" cy="715.4" r="7.7" fill="url(#gy)"/>
<circle cx="337.5" cy="913.9" r="7.7" fill="url(#gy)"/>
<circle cx="330" cy="847.1" r="7.7" fill="url(#gy)"/>
<circle cx="327.4" cy="1132.5" r="7.7" fill="url(#gy)"/>
<circle cx="365.5" cy="948.3" r="7.7" fill="url(#gy)"/>
<circle cx="220.7" cy="1302.8" r="7.7" fill="url(#gy)"/>
<circle cx="308.7" cy="1249" r="7.7" fill="url(#gy)"/>
<circle cx="286.3" cy="923.6" r="7.7" fill="url(#gy)"/>
<circle cx="159.8" cy="712.9" r="7.7" fill="url(#gy)"/>
<circle cx="318.5" cy="1192.2" r="7.7" fill="url(#gy)"/>
<circle cx="320.3" cy="824.8" r="7.7" fill="url(#gy)"/>
<circle cx="282.6" cy="1041.2" r="7.7" fill="url(#gy)"/>
<circle cx="373.4" cy="1163" r="7.7" fill="url(#gy)"/>
<circle cx="150.1" cy="1038.1" r="7.7" fill="url(#gy)"/>
<circle cx="128.2" cy="1366.7" r="7.7" fill="url(#gy)"/>
<circle cx="183" cy="1145.1" r="7.7" fill="url(#gy)"/>
<circle cx="361.7" cy="1151.4" r="7.7" fill="url(#gy)"/>
<circle cx="148.5" cy="803.8" r="7.7" fill="url(#gy)"/>
<circle cx="275.9" cy="1103.7" r="7.7" fill="url(#gy)"/>
<circle cx="380.4" cy="1076.6" r="7.7" fill="url(#gy)"/>
<circle cx="181" cy="1325.6" r="7.7" fill="url(#gy)"/>
<circle cx="131" cy="1401.5" r="7.7" fill="url(#gy)"/>
<circle cx="133.5" cy="1264.8" r="7.7" fill="url(#gy)"/>
<circle cx="221" cy="1038.2" r="7.7" fill="url(#gy)"/>
<circle cx="229.8" cy="1111.1" r="7.7" fill="url(#gy)"/>
<circle cx="258.4" cy="1186.6" r="7.7" fill="url(#gy)"/>
<circle cx="314.6" cy="1020" r="7.7" fill="url(#gy)"/>
<circle cx="287.7" cy="963.1" r="7.7" fill="url(#gy)"/>
<circle cx="316.7" cy="1178.1" r="7.7" fill="url(#gy)"/>
<circle cx="258.9" cy="1084.2" r="7.7" fill="url(#gy)"/>
<circle cx="374.8" cy="1326.7" r="7.7" fill="url(#gy)"/>
<circle cx="186" cy="782.5" r="7.7" fill="url(#gy)"/>
<circle cx="226" cy="1383.1" r="7.7" fill="url(#gy)"/>
<circle cx="273.7" cy="983.7" r="7.7" fill="url(#gy)"/>
<circle cx="129.8" cy="1021.4" r="7.7" fill="url(#gy)"/>
<circle cx="364.9" cy="798.8" r="7.7" fill="url(#gy)"/>
<circle cx="304.2" cy="777.9" r="7.7" fill="url(#gy)"/>
<circle cx="334.9" cy="1146.2" r="7.7" fill="url(#gy)"/>
<circle cx="166" cy="940.5" r="7.7" fill="url(#gy)"/>
<circle cx="229.5" cy="1388.1" r="7.7" fill="url(#gy)"/>
<circle cx="240.4" cy="767.2" r="7.7" fill="url(#gy)"/>
<circle cx="185.5" cy="971.4" r="7.7" fill="url(#gy)"/>
<circle cx="243.1" cy="1040.6" r="7.7" fill="url(#gy)"/>
<circle cx="348.3" cy="820.9" r="7.7" fill="url(#gy)"/>
<circle cx="155.4" cy="1219.8" r="7.7" fill="url(#gy)"/>
<circle cx="211.1" cy="845.2" r="7.7" fill="url(#gy)"/>
<circle cx="220.5" cy="1374.4" r="7.7" fill="url(#gy)"/>
<circle cx="262.8" cy="899.2" r="7.7" fill="url(#gy)"/>
<circle cx="352.8" cy="799.3" r="7.7" fill="url(#gy)"/>
<circle cx="222.1" cy="1126.9" r="7.7" fill="url(#gy)"/>
<circle cx="287.4" cy="1302.6" r="7.7" fill="url(#gy)"/>
<circle cx="172.7" cy="973.6" r="7.7" fill="url(#gy)"/>
<circle cx="247.9" cy="1352.1" r="7.7" fill="url(#gy)"/>
<circle cx="228.3" cy="1106" r="7.7" fill="url(#gy)"/>
<circle cx="287.7" cy="1291.5" r="7.7" fill="url(#gy)"/>
<circle cx="217.7" cy="847" r="7.7" fill="url(#gy)"/>
<circle cx="376.2" cy="841" r="7.7" fill="url(#gy)"/>
<circle cx="299.5" cy="1413.6" r="7.7" fill="url(#gy)"/>
<circle cx="254.6" cy="1204.4" r="7.7" fill="url(#gy)"/>
<circle cx="172" cy="836" r="7.7" fill="url(#gy)"/>
<circle cx="336.9" cy="1285.3" r="7.7" fill="url(#gy)"/>
<circle cx="341.1" cy="1150.7" r="7.7" fill="url(#gy)"/>
<circle cx="284.5" cy="1327.4" r="7.7" fill="url(#gy)"/>
<circle cx="175.1" cy="1068.8" r="7.7" fill="url(#gy)"/>
<circle cx="358.4" cy="854.8" r="7.7" fill="url(#gy)"/>
<circle cx="265.4" cy="835.7" r="7.7" fill="url(#gy)"/>
<circle cx="346.5" cy="1282.4" r="7.7" fill="url(#gy)"/>
<circle cx="152.4" cy="959.8" r="7.7" fill="url(#gy)"/>
<circle cx="352.9" cy="1353.4" r="7.7" fill="url(#gy)"/>
<circle cx="190.6" cy="1115.3" r="7.7" fill="url(#gy)"/>
<circle cx="295.6" cy="1007.8" r="7.7" fill="url(#gy)"/>
<circle cx="369.1" cy="1117.5" r="7.7" fill="url(#gy)"/>
<circle cx="358.3" cy="1263.1" r="7.7" fill="url(#gy)"/>
<circle cx="322.3" cy="1360.2" r="7.7" fill="url(#gy)"/>
<circle cx="353.4" cy="1251.2" r="7.7" fill="url(#gy)"/>
<circle cx="360.7" cy="771.8" r="7.7" fill="url(#gy)"/>
<circle cx="357.8" cy="956.9" r="7.7" fill="url(#gy)"/>
<circle cx="260.2" cy="789.5" r="7.7" fill="url(#gy)"/>
<circle cx="171.3" cy="865.9" r="7.7" fill="url(#gy)"/>
<circle cx="336.3" cy="988.5" r="7.7" fill="url(#gy)"/>
<circle cx="254.4" cy="1087.7" r="7.7" fill="url(#gy)"/>
<circle cx="212" cy="1305.3" r="7.7" fill="url(#gy)"/>
<circle cx="275.9" cy="890.3" r="7.7" fill="url(#gy)"/>
<circle cx="127.3" cy="1361.9" r="7.7" fill="url(#gy)"/>
<circle cx="326.5" cy="838.1" r="7.7" fill="url(#gy)"/>
<circle cx="250.3" cy="1094.4" r="7.7" fill="url(#gy)"/>
<circle cx="253.8" cy="1300.3" r="7.7" fill="url(#gy)"/>
<circle cx="124" cy="1280.9" r="7.7" fill="url(#gy)"/>
<circle cx="264.5" cy="868.5" r="7.7" fill="url(#gy)"/>
<circle cx="272" cy="969" r="7.7" fill="url(#gy)"/>
<circle cx="233.9" cy="842" r="7.7" fill="url(#gy)"/>
<circle cx="324.8" cy="1116.8" r="7.7" fill="url(#gy)"/>
<circle cx="235.3" cy="1156" r="7.7" fill="url(#gy)"/>
<circle cx="138.3" cy="970.4" r="7.7" fill="url(#gy)"/>
<circle cx="267.6" cy="893.9" r="7.7" fill="url(#gy)"/>
<circle cx="343.3" cy="1136.7" r="7.7" fill="url(#gy)"/>
<circle cx="352.2" cy="904.3" r="7.7" fill="url(#gy)"/>
<circle cx="325.1" cy="880.8" r="7.7" fill="url(#gy)"/>
<circle cx="165.7" cy="877.4" r="7.7" fill="url(#gy)"/>
<circle cx="287.8" cy="921.4" r="7.7" fill="url(#gy)"/>
<circle cx="289.2" cy="1282.6" r="7.7" fill="url(#gy)"/>
<circle cx="297" cy="1259.1" r="7.7" fill="url(#gy)"/>
<circle cx="326.2" cy="1253.2" r="7.7" fill="url(#gy)"/>
<circle cx="344.9" cy="897.7" r="7.7" fill="url(#gy)"/>
<circle cx="332.1" cy="798.1" r="7.7" fill="url(#gy)"/>
<circle cx="322.6" cy="1217" r="7.7" fill="url(#gy)"/>
<circle cx="366.4" cy="1394.2" r="7.7" fill="url(#gy)"/>
<circle cx="156.8" cy="1381.7" r="7.7" fill="url(#gy)"/>
<circle cx="256.4" cy="1261.8" r="7.7" fill="url(#gy)"/>
<circle cx="349.4" cy="1023.1" r="7.7" fill="url(#gy)"/>
<circle cx="272" cy="705.7" r="7.7" fill="url(#gy)"/>
<circle cx="209.9" cy="920.6" r="7.7" fill="url(#gy)"/>
<circle cx="374.8" cy="1363.9" r="7.7" fill="url(#gy)"/>
<circle cx="197.1" cy="1101.6" r="7.7" fill="url(#gy)"/>
<circle cx="265.5" cy="1186.1" r="7.7" fill="url(#gy)"/>
<circle cx="163.9" cy="1092.4" r="7.7" fill="url(#gy)"/>
<circle cx="258.1" cy="813" r="7.7" fill="url(#gy)"/>
<circle cx="125.3" cy="1374" r="7.7" fill="url(#gy)"/>
<circle cx="157.9" cy="1141.8" r="7.7" fill="url(#gy)"/>
<circle cx="335.8" cy="1005.5" r="7.7" fill="url(#gy)"/>
<circle cx="164.6" cy="790.5" r="7.7" fill="url(#gy)"/>
<circle cx="130.3" cy="1076.7" r="7.7" fill="url(#gy)"/>
<circle cx="257.2" cy="1250.8" r="7.7" fill="url(#gy)"/>
<circle cx="369.3" cy="1362.1" r="7.7" fill="url(#gy)"/>
<circle cx="204.2" cy="1358.4" r="7.7" fill="url(#gy)"/>
<circle cx="144" cy="1288.4" r="7.7" fill="url(#gy)"/>
<circle cx="330.6" cy="1405.1" r="7.7" fill="url(#gy)"/>
<circle cx="167.3" cy="1047.8" r="7.7" fill="url(#gy)"/>
<circle cx="201.1" cy="1159.9" r="7.7" fill="url(#gy)"/>
<circle cx="207.8" cy="1105.6" r="7.7" fill="url(#gy)"/>
<circle cx="234.8" cy="1116.9" r="7.7" fill="url(#gy)"/>
<circle cx="268.9" cy="1343.8" r="7.7" fill="url(#gy)"/>
<circle cx="135.1" cy="1210.5" r="7.7" fill="url(#gy)"/>
<circle cx="154.6" cy="1216.4" r="7.7" fill="url(#gy)"/>
<circle cx="178.8" cy="782.4" r="7.7" fill="url(#gy)"/>
<circle cx="257.2" cy="1051.5" r="7.7" fill="url(#gy)"/>
<circle cx="334.6" cy="1166.4" r="7.7" fill="url(#gy)"/>
<circle cx="184.1" cy="1242.4" r="7.7" fill="url(#gy)"/>
<circle cx="189.6" cy="858" r="7.7" fill="url(#gy)"/>
<circle cx="187.3" cy="1268" r="7.7" fill="url(#gy)"/>
<circle cx="161.7" cy="1403.8" r="7.7" fill="url(#gy)"/>
<circle cx="180.6" cy="1007.5" r="7.7" fill="url(#gy)"/>
<circle cx="334.6" cy="1126.3" r="7.7" fill="url(#gy)"/>
<circle cx="188" cy="1401" r="7.7" fill="url(#gy)"/>
<circle cx="359.4" cy="960.4" r="7.7" fill="url(#gy)"/>
<circle cx="344.7" cy="748.3" r="7.7" fill="url(#gy)"/>
<circle cx="167.7" cy="926.2" r="7.7" fill="url(#gy)"/>
<circle cx="334" cy="1287.9" r="7.7" fill="url(#gy)"/>
<circle cx="264.4" cy="958" r="7.7" fill="url(#gy)"/>
<circle cx="214.3" cy="1221.2" r="7.7" fill="url(#gy)"/>
<circle cx="289.2" cy="1289.5" r="7.7" fill="url(#gy)"/>
<circle cx="137.7" cy="1229.9" r="7.7" fill="url(#gy)"/>
<circle cx="169.2" cy="1228.8" r="7.7" fill="url(#gy)"/>
<circle cx="317.7" cy="1125" r="7.7" fill="url(#gy)"/>
<circle cx="170.9" cy="1215" r="7.7" fill="url(#gy)"/>
<circle cx="148.1" cy="894.8" r="7.7" fill="url(#gy)"/>
<circle cx="321.4" cy="1084.8" r="7.7" fill="url(#gy)"/>
<circle cx="170.3" cy="1167.7" r="7.7" fill="url(#gy)"/>
<circle cx="283.2" cy="742.4" r="7.7" fill="url(#gy)"/>
<circle cx="138" cy="772.6" r="7.7" fill="url(#gy)"/>
<circle cx="132.7" cy="1049" r="7.7" fill="url(#gy)"/>
<circle cx="283.7" cy="1381.4" r="7.7" fill="url(#gy)"/>
<circle cx="266.4" cy="1248.1" r="7.7" fill="url(#gy)"/>
<circle cx="282.4" cy="1183.3" r="7.7" fill="url(#gy)"/>
<circle cx="250.4" cy="1377.4" r="7.7" fill="url(#gy)"/>
<circle cx="341.3" cy="756.2" r="7.7" fill="url(#gy)"/>
<circle cx="190.1" cy="742.2" r="7.7" fill="url(#gy)"/>
<circle cx="138.2" cy="1384.9" r="7.7" fill="url(#gy)"/>
<circle cx="330.6" cy="796.8" r="7.7" fill="url(#gy)"/>
<circle cx="356.9" cy="1206.8" r="7.7" fill="url(#gy)"/>
<circle cx="235.7" cy="1156.3" r="7.7" fill="url(#gy)"/>
<circle cx="177.8" cy="1229" r="7.7" fill="url(#gy)"/>
<circle cx="293.6" cy="850.6" r="7.7" fill="url(#gy)"/>
<circle cx="297.6" cy="961.8" r="7.7" fill="url(#gy)"/>
<circle cx="132.5" cy="927.5" r="7.7" fill="url(#gy)"/>
<circle cx="268" cy="1015" r="7.7" fill="url(#gy)"/>
<circle cx="213.6" cy="1116.6" r="7.7" fill="url(#gy)"/>
<circle cx="273.6" cy="1038" r="7.7" fill="url(#gy)"/>
<circle cx="289" cy="1392.7" r="7.7" fill="url(#gy)"/>
<circle cx="224.6" cy="1086.4" r="7.7" fill="url(#gy)"/>
<circle cx="325.1" cy="788.2" r="7.7" fill="url(#gy)"/>
<circle cx="287.1" cy="1212.8" r="7.7" fill="url(#gy)"/>
<circle cx="170.4" cy="932.2" r="7.7" fill="url(#gy)"/>
<circle cx="319.9" cy="929.4" r="7.7" fill="url(#gy)"/>
<circle cx="326" cy="1261.5" r="7.7" fill="url(#gy)"/>
<circle cx="291.1" cy="1379.6" r="7.7" fill="url(#gy)"/>
<circle cx="141.2" cy="884.9" r="7.7" fill="url(#gy)"/>
<circle cx="192.3" cy="883.9" r="7.7" fill="url(#gy)"/>
<circle cx="343.9" cy="1040.9" r="7.7" fill="url(#gy)"/>
<circle cx="134.1" cy="951.6" r="7.7" fill="url(#gy)"/>
<circle cx="307.6" cy="1363.8" r="7.7" fill="url(#gy)"/>
<circle cx="170.5" cy="800" r="7.7" fill="url(#gy)"/>
<circle cx="264.9" cy="905.9" r="7.7" fill="url(#gy)"/>
<circle cx="135.3" cy="797.3" r="7.7" fill="url(#gy)"/>
<circle cx="185.9" cy="716.6" r="7.7" fill="url(#gy)"/>
<circle cx="232.1" cy="1397.2" r="7.7" fill="url(#gy)"/>
<circle cx="121.8" cy="1010.6" r="7.7" fill="url(#gy)"/>
<circle cx="169.5" cy="1143.7" r="7.7" fill="url(#gy)"/>
<circle cx="129" cy="724.7" r="7.7" fill="url(#gy)"/>
<circle cx="199.5" cy="1011.1" r="7.7" fill="url(#gy)"/>
<circle cx="242.6" cy="1423.2" r="7.7" fill="url(#gy)"/>
<circle cx="148.8" cy="1401.1" r="7.7" fill="url(#gy)"/>
<circle cx="371.3" cy="1074.8" r="7.7" fill="url(#gy)"/>
<circle cx="372.4" cy="1210.4" r="7.7" fill="url(#gy)"/>
<circle cx="345.2" cy="770.8" r="7.7" fill="url(#gy)"/>
<circle cx="357.9" cy="1244.7" r="7.7" fill="url(#gy)"/>
<circle cx="245.5" cy="1398.7" r="7.7" fill="url(#gy)"/>
<circle cx="216.4" cy="1404.4" r="7.7" fill="url(#gy)"/>
<circle cx="308.7" cy="1307" r="7.7" fill="url(#gy)"/>
<circle cx="252.2" cy="1151.1" r="7.7" fill="url(#gy)"/>
<circle cx="250.2" cy="919.5" r="7.7" fill="url(#gy)"/>
<circle cx="354.3" cy="1304.8" r="7.7" fill="url(#gy)"/>
<circle cx="225" cy="1315.1" r="7.7" fill="url(#gy)"/>
<circle cx="242.7" cy="1412.5" r="7.7" fill="url(#gy)"/>
<circle cx="229.9" cy="1239.8" r="7.7" fill="url(#gy)"/>
<circle cx="207.9" cy="713.2" r="7.7" fill="url(#gy)"/>
<circle cx="268.7" cy="1385.9" r="7.7" fill="url(#gy)"/>
<circle cx="288.1" cy="725.2" r="7.7" fill="url(#gy)"/>
<circle cx="318.1" cy="1391.2" r="7.7" fill="url(#gy)"/>
<circle cx="368.4" cy="1282.9" r="7.7" fill="url(#gy)"/>
<circle cx="324.6" cy="1316.5" r="7.7" fill="url(#gy)"/>
<circle cx="148.9" cy="887.4" r="7.7" fill="url(#gy)"/>
<circle cx="144" cy="1135.9" r="7.7" fill="url(#gy)"/>
<circle cx="329.6" cy="1299.6" r="7.7" fill="url(#gy)"/>
<circle cx="280.7" cy="870.5" r="7.7" fill="url(#gy)"/>
<circle cx="232.6" cy="1039.8" r="7.7" fill="url(#gy)"/>
<circle cx="342.7" cy="877.8" r="7.7" fill="url(#gy)"/>
<circle cx="361.6" cy="859.5" r="7.7" fill="url(#gy)"/>
<circle cx="203.4" cy="754.1" r="7.7" fill="url(#gy)"/>
<circle cx="291.8" cy="1143.8" r="7.7" fill="url(#gy)"/>
<circle cx="250.3" cy="1197.8" r="7.7" fill="url(#gy)"/>
<circle cx="219.3" cy="1114.7" r="7.7" fill="url(#gy)"/>
<circle cx="144.1" cy="1166.3" r="7.7" fill="url(#gy)"/>
<circle cx="305.2" cy="853.3" r="7.7" fill="url(#gy)"/>
<circle cx="351.4" cy="848.8" r="7.7" fill="url(#gy)"/>
<circle cx="198.5" cy="1405.7" r="7.7" fill="url(#gy)"/>
<circle cx="179.5" cy="1148.8" r="7.7" fill="url(#gy)"/>
<circle cx="345.2" cy="731.7" r="7.7" fill="url(#gy)"/>
<circle cx="147.8" cy="1322.7" r="7.7" fill="url(#gy)"/>
<circle cx="324.9" cy="1301.6" r="7.7" fill="url(#gy)"/>
<circle cx="188.2" cy="1284.1" r="7.7" fill="url(#gy)"/>
<circle cx="350.4" cy="1092" r="7.7" fill="url(#gy)"/>
<circle cx="119.1" cy="1206.7" r="7.7" fill="url(#gy)"/>
<circle cx="353.2" cy="1326.8" r="7.7" fill="url(#gy)"/>
<circle cx="315.8" cy="766.9" r="7.7" fill="url(#gy)"/>
<circle cx="285" cy="1166.1" r="7.7" fill="url(#gy)"/>
<circle cx="235.6" cy="1126.5" r="7.7" fill="url(#gy)"/>
<circle cx="311.3" cy="1029.3" r="7.7" fill="url(#gy)"/>
<circle cx="173.3" cy="1131.4" r="7.7" fill="url(#gy)"/>
<circle cx="325.6" cy="1303.6" r="7.7" fill="url(#gy)"/>
<circle cx="123.4" cy="730.3" r="7.7" fill="url(#gy)"/>
<circle cx="130.5" cy="908.2" r="7.7" fill="url(#gy)"/>
<circle cx="159.1" cy="902.7" r="7.7" fill="url(#gy)"/>
<circle cx="288.1" cy="1155.2" r="7.7" fill="url(#gy)"/>
<circle cx="163.1" cy="1339.7" r="7.7" fill="url(#gy)"/>
<circle cx="230.4" cy="988.8" r="7.7" fill="url(#gy)"/>
<circle cx="120.2" cy="891.3" r="7.7" fill="url(#gy)"/>
<circle cx="247.9" cy="725.4" r="7.7" fill="url(#gy)"/>
<circle cx="151.2" cy="853.7" r="7.7" fill="url(#gy)"/>
<circle cx="341.1" cy="730.7" r="7.7" fill="url(#gy)"/>
<circle cx="327.6" cy="1220.9" r="7.7" fill="url(#gy)"/>
<circle cx="215.4" cy="1292.4" r="7.7" fill="url(#gy)"/>
<circle cx="212.4" cy="723.6" r="7.7" fill="url(#gy)"/>
<circle cx="128.6" cy="710.9" r="7.7" fill="url(#gy)"/>
<circle cx="266.9" cy="1314.6" r="7.7" fill="url(#gy)"/>
<circle cx="227" cy="1191.7" r="7.7" fill="url(#gy)"/>
<circle cx="334.8" cy="975.2" r="7.7" fill="url(#gy)"/>
<circle cx="129.7" cy="1009.9" r="7.7" fill="url(#gy)"/>
<circle cx="169.4" cy="966.3" r="7.7" fill="url(#gy)"/>
<circle cx="329.6" cy="1335.1" r="7.7" fill="url(#gy)"/>
<circle cx="226" cy="1419.4" r="7.7" fill="url(#gy)"/>
<circle cx="157.7" cy="1065.5" r="7.7" fill="url(#gy)"/>
<circle cx="157.9" cy="713.1" r="7.7" fill="url(#gy)"/>
<circle cx="238.6" cy="1354.4" r="7.7" fill="url(#gy)"/>
<circle cx="273.8" cy="1080.9" r="7.7" fill="url(#gy)"/>
<circle cx="171.5" cy="1297.1" r="7.7" fill="url(#gy)"/>
<circle cx="366.1" cy="762.7" r="7.7" fill="url(#gy)"/>
<circle cx="169.8" cy="1356.6" r="7.7" fill="url(#gy)"/>
<circle cx="154.1" cy="1320" r="7.7" fill="url(#gy)"/>
<circle cx="365.6" cy="819.2" r="7.7" fill="url(#gy)"/>
<circle cx="364.4" cy="1349.2" r="7.7" fill="url(#gy)"/>
<circle cx="233.9" cy="973.4" r="7.7" fill="url(#gy)"/>
<circle cx="328.9" cy="821" r="7.7" fill="url(#gy)"/>
<circle cx="176" cy="1313.6" r="7.7" fill="url(#gy)"/>
<circle cx="179.9" cy="801" r="7.7" fill="url(#gy)"/>
<circle cx="152.8" cy="1181.3" r="7.7" fill="url(#gy)"/>
<circle cx="184.1" cy="1286.2" r="7.7" fill="url(#gy)"/>
<circle cx="366.3" cy="1059" r="7.7" fill="url(#gy)"/>
<circle cx="283.2" cy="790.1" r="7.7" fill="url(#gy)"/>
<circle cx="222.1" cy="726.7" r="7.7" fill="url(#gy)"/>
<circle cx="298.2" cy="725.6" r="7.7" fill="url(#gy)"/>
<circle cx="344.3" cy="794" r="7.7" fill="url(#gy)"/>
<circle cx="190.3" cy="1135.1" r="7.7" fill="url(#gy)"/>
<circle cx="328.2" cy="712.9" r="7.7" fill="url(#gy)"/>
<circle cx="191.5" cy="1260.2" r="7.7" fill="url(#gy)"/>
<circle cx="175.4" cy="871.9" r="7.7" fill="url(#gy)"/>
<circle cx="222.8" cy="1353.2" r="7.7" fill="url(#gy)"/>
<circle cx="356.5" cy="937.5" r="7.7" fill="url(#gy)"/>
<circle cx="277.8" cy="1410.4" r="7.7" fill="url(#gy)"/>
<circle cx="258.1" cy="721.1" r="7.7" fill="url(#gy)"/>
<circle cx="172.6" cy="1134.9" r="7.7" fill="url(#gy)"/>
<circle cx="156.3" cy="760.1" r="7.7" fill="url(#gy)"/>
<circle cx="220.7" cy="942.2" r="7.7" fill="url(#gy)"/>
<circle cx="149" cy="960.6" r="7.7" fill="url(#gy)"/>
<circle cx="230.6" cy="1404.6" r="7.7" fill="url(#gy)"/>
<circle cx="191.8" cy="1236.9" r="7.7" fill="url(#gy)"/>
<circle cx="255.2" cy="997" r="7.7" fill="url(#gy)"/>
<circle cx="293.4" cy="1019.9" r="7.7" fill="url(#gy)"/>
<circle cx="338.6" cy="814.8" r="7.7" fill="url(#gy)"/>
<circle cx="358" cy="1096.2" r="7.7" fill="url(#gy)"/>
<circle cx="258.5" cy="1400.3" r="7.7" fill="url(#gy)"/>
<circle cx="129.7" cy="937.2" r="7.7" fill="url(#gy)"/>
<circle cx="216.8" cy="1180.5" r="7.7" fill="url(#gy)"/>
<circle cx="362.3" cy="724.1" r="7.7" fill="url(#gy)"/>
<circle cx="229.8" cy="826.3" r="7.7" fill="url(#gy)"/>
<circle cx="174" cy="1136" r="7.7" fill="url(#gy)"/>
<circle cx="293.8" cy="1292" r="7.7" fill="url(#gy)"/>
<circle cx="251.4" cy="1016.4" r="7.7" fill="url(#gy)"/>
<circle cx="201.3" cy="1254.4" r="7.7" fill="url(#gy)"/>
<circle cx="287.7" cy="987.6" r="7.7" fill="url(#gy)"/>
<circle cx="240" cy="841.1" r="7.7" fill="url(#gy)"/>
<circle cx="207.4" cy="996.4" r="7.7" fill="url(#gy)"/>
<circle cx="204.4" cy="861.8" r="7.7" fill="url(#gy)"/>
<circle cx="273.1" cy="900.3" r="7.7" fill="url(#gy)"/>
<circle cx="178.1" cy="858.4" r="7.7" fill="url(#gy)"/>
<circle cx="364.1" cy="926.2" r="7.7" fill="url(#gy)"/>
<circle cx="215" cy="1369.2" r="7.7" fill="url(#gy)"/>
<circle cx="135" cy="1396.3" r="7.7" fill="url(#gy)"/>
<circle cx="201.6" cy="1403" r="7.7" fill="url(#gy)"/>
<circle cx="143.1" cy="1006" r="7.7" fill="url(#gy)"/>
<circle cx="178" cy="1213.1" r="7.7" fill="url(#gy)"/>
<circle cx="217.8" cy="972.2" r="7.7" fill="url(#gy)"/>
<circle cx="358.6" cy="804.1" r="7.7" fill="url(#gy)"/>
<circle cx="126.8" cy="1035.1" r="7.7" fill="url(#gy)"/>
<circle cx="319.7" cy="816.9" r="7.7" fill="url(#gy)"/>
<circle cx="165.9" cy="875" r="7.7" fill="url(#gy)"/>
<circle cx="240.7" cy="1417.4" r="7.7" fill="url(#gy)"/>
<circle cx="339.2" cy="1323.8" r="7.7" fill="url(#gy)"/>
<circle cx="324.4" cy="805.8" r="7.7" fill="url(#gy)"/>
<circle cx="291" cy="871.2" r="7.7" fill="url(#gy)"/>
<circle cx="163.3" cy="1369.7" r="7.7" fill="url(#gy)"/>
<circle cx="276.2" cy="1097.4" r="7.7" fill="url(#gy)"/>
<circle cx="284.2" cy="911.1" r="7.7" fill="url(#gy)"/>
<circle cx="173.3" cy="764.1" r="7.7" fill="url(#gy)"/>
<circle cx="274.9" cy="1410.5" r="7.7" fill="url(#gy)"/>
<circle cx="168.4" cy="1249" r="7.7" fill="url(#gy)"/>
<circle cx="342.9" cy="1055.4" r="7.7" fill="url(#gy)"/>
<circle cx="322.5" cy="830.2" r="7.7" fill="url(#gy)"/>
<circle cx="363.7" cy="1130.5" r="7.7" fill="url(#gy)"/>
<circle cx="128.7" cy="744.9" r="7.7" fill="url(#gy)"/>
<circle cx="201.7" cy="831.9" r="7.7" fill="url(#gy)"/>
<circle cx="340.9" cy="1075.6" r="7.7" fill="url(#gy)"/>
<circle cx="240.1" cy="944.1" r="7.7" fill="url(#gy)"/>
<circle cx="190.9" cy="897.9" r="7.7" fill="url(#gy)"/>
<circle cx="204.5" cy="834.4" r="7.7" fill="url(#gy)"/>
<circle cx="340.4" cy="1138.1" r="7.7" fill="url(#gy)"/>
<circle cx="351.6" cy="918.7" r="7.7" fill="url(#gy)"/>
<circle cx="171.1" cy="1250.9" r="7.7" fill="url(#gy)"/>
<circle cx="217.7" cy="808.5" r="7.7" fill="url(#gy)"/>
<circle cx="341.8" cy="1209.2" r="7.7" fill="url(#gy)"/>
<circle cx="280.9" cy="1381.9" r="7.7" fill="url(#gy)"/>
<circle cx="254.7" cy="1176.5" r="7.7" fill="url(#gy)"/>
<circle cx="162.3" cy="751.6" r="7.7" fill="url(#gy)"/>
<circle cx="182.8" cy="1230.8" r="7.7" fill="url(#gy)"/>
<circle cx="200.5" cy="1365.8" r="7.7" fill="url(#gy)"/>
<circle cx="302.2" cy="1285.6" r="7.7" fill="url(#gy)"/>
<circle cx="266.4" cy="986.2" r="7.7" fill="url(#gy)"/>
<circle cx="356.5" cy="1231.9" r="7.7" fill="url(#gy)"/>
<circle cx="120.2" cy="859.2" r="7.7" fill="url(#gy)"/>
<circle cx="219.2" cy="848.3" r="7.7" fill="url(#gy)"/>
<circle cx="129.5" cy="905.9" r="7.7" fill="url(#gy)"/>
<circle cx="177.4" cy="1027.4" r="7.7" fill="url(#gy)"/>
<circle cx="220.1" cy="1070.5" r="7.7" fill="url(#gy)"/>
<circle cx="243.1" cy="1027.4" r="7.7" fill="url(#gy)"/>
<circle cx="318.8" cy="735.9" r="7.7" fill="url(#gy)"/>
<circle cx="125.5" cy="972.6" r="7.7" fill="url(#gy)"/>
<circle cx="121.6" cy="1386.3" r="7.7" fill="url(#gy)"/>
<circle cx="326.2" cy="968.5" r="7.7" fill="url(#gy)"/>
<circle cx="209.9" cy="1343.5" r="7.7" fill="url(#gy)"/>
<circle cx="172.8" cy="825" r="7.7" fill="url(#gy)"/>
<circle cx="187.1" cy="1060.7" r="7.7" fill="url(#gy)"/>
<circle cx="148.1" cy="783.7" r="7.7" fill="url(#gy)"/>
<circle cx="169.9" cy="966.7" r="7.7" fill="url(#gy)"/>
<circle cx="209.4" cy="1233.3" r="7.7" fill="url(#gy)"/>
<circle cx="360.5" cy="1074.8" r="7.7" fill="url(#gy)"/>
<circle cx="160.5" cy="798.5" r="7.7" fill="url(#gy)"/>
<circle cx="128.5" cy="1198" r="7.7" fill="url(#gy)"/>
<circle cx="332.1" cy="1076.9" r="7.7" fill="url(#gy)"/>
<circle cx="120.3" cy="1123.9" r="7.7" fill="url(#gy)"/>
<circle cx="251.7" cy="1069.5" r="7.7" fill="url(#gy)"/>
<circle cx="158.6" cy="932.4" r="7.7" fill="url(#gy)"/>
<circle cx="171.4" cy="1086.8" r="7.7" fill="url(#gy)"/>
<circle cx="124.6" cy="1277.1" r="7.7" fill="url(#gy)"/>
<circle cx="235.3" cy="1370.4" r="7.7" fill="url(#gy)"/>
<circle cx="304.3" cy="1278" r="7.7" fill="url(#gy)"/>
<circle cx="172.6" cy="1408.4" r="7.7" fill="url(#gy)"/>
<circle cx="145.1" cy="1070.9" r="7.7" fill="url(#gy)"/>
<circle cx="261.3" cy="1280.9" r="7.7" fill="url(#gy)"/>
<circle cx="257.9" cy="945" r="7.7" fill="url(#gy)"/>
<circle cx="119.3" cy="957.2" r="7.7" fill="url(#gy)"/>
<circle cx="159.9" cy="1045.6" r="7.7" fill="url(#gy)"/>
<circle cx="168.9" cy="1065.1" r="7.7" fill="url(#gy)"/>
<circle cx="219.2" cy="790.7" r="7.7" fill="url(#gy)"/>
<circle cx="161.2" cy="1263.1" r="7.7" fill="url(#gy)"/>
<circle cx="302.1" cy="780" r="7.7" fill="url(#gy)"/>
<circle cx="275.7" cy="731.2" r="7.7" fill="url(#gy)"/>
<circle cx="344.9" cy="738.5" r="7.7" fill="url(#gy)"/>
<circle cx="159.3" cy="862.7" r="7.7" fill="url(#gy)"/>
<circle cx="141.3" cy="1232.6" r="7.7" fill="url(#gy)"/>
<circle cx="354.9" cy="970.1" r="7.7" fill="url(#gy)"/>
<circle cx="155.5" cy="789.4" r="7.7" fill="url(#gy)"/>
<circle cx="262.2" cy="722.8" r="7.7" fill="url(#gy)"/>
<circle cx="268.9" cy="1399.5" r="7.7" fill="url(#gy)"/>
<circle cx="187.7" cy="1347.3" r="7.7" fill="url(#gy)"/>
<circle cx="145.1" cy="1384.9" r="7.7" fill="url(#gy)"/>
<circle cx="128.5" cy="1305.6" r="7.7" fill="url(#gy)"/>
<circle cx="193.2" cy="1420.1" r="7.7" fill="url(#gy)"/>
<circle cx="254.4" cy="815.2" r="7.7" fill="url(#gy)"/>
<circle cx="210.6" cy="1089.4" r="7.7" fill="url(#gy)"/>
<circle cx="333" cy="726.5" r="7.7" fill="url(#gy)"/>
<circle cx="253.8" cy="828.7" r="7.7" fill="url(#gy)"/>
<circle cx="177.7" cy="895" r="7.7" fill="url(#gy)"/>
<circle cx="355.2" cy="1353.2" r="7.7" fill="url(#gy)"/>
<circle cx="286.9" cy="1075.4" r="7.7" fill="url(#gy)"/>
<circle cx="330.8" cy="804.4" r="7.7" fill="url(#gy)"/>
<circle cx="278.5" cy="1046.3" r="7.7" fill="url(#gy)"/>
<circle cx="191.7" cy="1256.7" r="7.7" fill="url(#gy)"/>
<circle cx="267.1" cy="771.9" r="7.7" fill="url(#gy)"/>
<circle cx="219.2" cy="1020.7" r="7.7" fill="url(#gy)"/>
<circle cx="282.8" cy="999.2" r="7.7" fill="url(#gy)"/>
<circle cx="333.5" cy="976" r="7.7" fill="url(#gy)"/>
<circle cx="172.4" cy="731.2" r="7.7" fill="url(#gy)"/>
<circle cx="322.2" cy="1299.8" r="7.7" fill="url(#gy)"/>
<circle cx="133.8" cy="784.7" r="7.7" fill="url(#gy)"/>
<circle cx="264.2" cy="1227" r="7.7" fill="url(#gy)"/>
<circle cx="170.1" cy="1370" r="7.7" fill="url(#gy)"/>
<circle cx="355.3" cy="941.1" r="7.7" fill="url(#gy)"/>
<circle cx="216.7" cy="1373.5" r="7.7" fill="url(#gy)"/>
<circle cx="215.7" cy="1288.2" r="7.7" fill="url(#gy)"/>
<circle cx="288.9" cy="1048.9" r="7.7" fill="url(#gy)"/>
<circle cx="253.2" cy="757.9" r="7.7" fill="url(#gy)"/>
<circle cx="184.9" cy="991.2" r="7.7" fill="url(#gy)"/>
<circle cx="299.5" cy="894.9" r="7.7" fill="url(#gy)"/>
<circle cx="175.3" cy="1120.8" r="7.7" fill="url(#gy)"/>
<circle cx="127.7" cy="779.4" r="7.7" fill="url(#gy)"/>
<circle cx="234.5" cy="1115.8" r="7.7" fill="url(#gy)"/>
<circle cx="129.1" cy="950.1" r="7.7" fill="url(#gy)"/>
<circle cx="295.1" cy="1089.1" r="7.7" fill="url(#gy)"/>
<circle cx="357.7" cy="1071.6" r="7.7" fill="url(#gy)"/>
<circle cx="130.4" cy="963.4" r="7.7" fill="url(#gy)"/>
<circle cx="179.5" cy="887.8" r="7.7" fill="url(#gy)"/>
<circle cx="342.1" cy="1156.1" r="7.7" fill="url(#gy)"/>
<circle cx="209.9" cy="920.6" r="7.7" fill="url(#gy)"/>
<circle cx="228.2" cy="1391.4" r="7.7" fill="url(#gy)"/>
<circle cx="355.8" cy="1242.8" r="7.7" fill="url(#gy)"/>
<circle cx="280.2" cy="1039.6" r="7.7" fill="url(#gy)"/>
<circle cx="319" cy="981.8" r="7.7" fill="url(#gy)"/>
<circle cx="217.9" cy="1375.2" r="7.7" fill="url(#gy)"/>
<circle cx="186.5" cy="863.6" r="7.7" fill="url(#gy)"/>
<circle cx="273.7" cy="1278.7" r="7.7" fill="url(#gy)"/>
<circle cx="128" cy="753.8" r="7.7" fill="url(#gy)"/>
<circle cx="285.4" cy="978.9" r="7.7" fill="url(#gy)"/>
<circle cx="333.6" cy="1112.7" r="7.7" fill="url(#gy)"/>
<circle cx="341.9" cy="1122.1" r="7.7" fill="url(#gy)"/>
<circle cx="303.1" cy="1230.8" r="7.7" fill="url(#gy)"/>
<circle cx="320.7" cy="1128.7" r="7.7" fill="url(#gy)"/>
<circle cx="307.4" cy="932.3" r="7.7" fill="url(#gy)"/>
<circle cx="307.8" cy="957.1" r="7.7" fill="url(#gy)"/>
<circle cx="289.7" cy="915.3" r="7.7" fill="url(#gy)"/>
<circle cx="294.6" cy="1382.4" r="7.7" fill="url(#gy)"/>
<circle cx="296.1" cy="752" r="7.7" fill="url(#gy)"/>
<circle cx="347.4" cy="1045.4" r="7.7" fill="url(#gy)"/>
<circle cx="197" cy="1366.2" r="7.7" fill="url(#gy)"/>
<circle cx="185.2" cy="934" r="7.7" fill="url(#gy)"/>
<circle cx="197.7" cy="851.9" r="7.7" fill="url(#gy)"/>
<circle cx="227" cy="1240.9" r="7.7" fill="url(#gy)"/>
<circle cx="351" cy="1123.8" r="7.7" fill="url(#gy)"/>
<circle cx="306.2" cy="800.5" r="7.7" fill="url(#gy)"/>
<circle cx="306.1" cy="1317" r="7.7" fill="url(#gy)"/>
<circle cx="124.3" cy="725.3" r="7.7" fill="url(#gy)"/>
<circle cx="296.1" cy="963.9" r="7.7" fill="url(#gy)"/>
<circle cx="147.2" cy="867.6" r="7.7" fill="url(#gy)"/>
<circle cx="316.4" cy="1394.5" r="7.7" fill="url(#gy)"/>
<circle cx="200.4" cy="1147.1" r="7.7" fill="url(#gy)"/>
<circle cx="351.9" cy="1203.4" r="7.7" fill="url(#gy)"/>
<circle cx="240.1" cy="717.9" r="7.7" fill="url(#gy)"/>
<circle cx="252.3" cy="1314" r="7.7" fill="url(#gy)"/>
<circle cx="279.8" cy="1149.2" r="7.7" fill="url(#gy)"/>
<circle cx="118.5" cy="863.4" r="7.7" fill="url(#gy)"/>
<circle cx="195.5" cy="1239.4" r="7.7" fill="url(#gy)"/>
<circle cx="321" cy="1001.9" r="7.7" fill="url(#gy)"/>
<circle cx="181.8" cy="1137.4" r="7.7" fill="url(#gy)"/>
<circle cx="179.3" cy="1087.3" r="7.7" fill="url(#gy)"/>
<circle cx="141.7" cy="1271.8" r="7.7" fill="url(#gy)"/>
<circle cx="168.5" cy="953.7" r="7.7" fill="url(#gy)"/>
<circle cx="285.3" cy="784.8" r="7.7" fill="url(#gy)"/>
<circle cx="174.5" cy="1324.1" r="7.7" fill="url(#gy)"/>
<circle cx="119.7" cy="1220.3" r="7.7" fill="url(#gy)"/>
<circle cx="238.5" cy="1210.4" r="7.7" fill="url(#gy)"/>
<circle cx="172.6" cy="740.3" r="7.7" fill="url(#gy)"/>
<circle cx="229.8" cy="746.4" r="7.7" fill="url(#gy)"/>
<circle cx="131" cy="980.6" r="7.7" fill="url(#gy)"/>
<circle cx="276.3" cy="1262.6" r="7.7" fill="url(#gy)"/>
<circle cx="278.5" cy="983.1" r="7.7" fill="url(#gy)"/>
<circle cx="262.1" cy="1030.2" r="7.7" fill="url(#gy)"/>
<circle cx="169.3" cy="969" r="7.7" fill="url(#gy)"/>
<circle cx="169.6" cy="1254.9" r="7.7" fill="url(#gy)"/>
<circle cx="251" cy="1257.3" r="7.7" fill="url(#gy)"/>
<circle cx="243.4" cy="737.8" r="7.7" fill="url(#gy)"/>
<circle cx="205.2" cy="872" r="7.7" fill="url(#gy)"/>
<circle cx="177" cy="1094.6" r="7.7" fill="url(#gy)"/>
<circle cx="190" cy="1092.5" r="7.7" fill="url(#gy)"/>
<circle cx="251.5" cy="1138.2" r="7.7" fill="url(#gy)"/>
<circle cx="308.1" cy="980.6" r="7.7" fill="url(#gy)"/>
<circle cx="254.6" cy="1134.8" r="7.7" fill="url(#gy)"/>
<circle cx="134.8" cy="941.1" r="7.7" fill="url(#gy)"/>
<circle cx="327.9" cy="1107.1" r="7.7" fill="url(#gy)"/>
<circle cx="277.5" cy="727.5" r="7.7" fill="url(#gy)"/>
<circle cx="161.2" cy="759.4" r="7.7" fill="url(#gy)"/>
<circle cx="155.5" cy="1157.5" r="7.7" fill="url(#gy)"/>
<circle cx="336.4" cy="1151" r="7.7" fill="url(#gy)"/>
<circle cx="238.2" cy="1406.4" r="7.7" fill="url(#gy)"/>
<circle cx="156.6" cy="902.5" r="7.7" fill="url(#gy)"/>
<circle cx="347.3" cy="1362.3" r="7.7" fill="url(#gy)"/>
<circle cx="255.2" cy="1340.4" r="7.7" fill="url(#gy)"/>
<circle cx="152.3" cy="1106.3" r="7.7" fill="url(#gy)"/>
<circle cx="284.6" cy="1202.7" r="7.7" fill="url(#gy)"/>
<circle cx="213.5" cy="847.9" r="7.7" fill="url(#gy)"/>
<circle cx="219.9" cy="1211.7" r="7.7" fill="url(#gy)"/>
<circle cx="313.2" cy="1086.1" r="7.7" fill="url(#gy)"/>
<circle cx="174.6" cy="740.2" r="7.7" fill="url(#gy)"/>
<circle cx="211.6" cy="1377" r="7.7" fill="url(#gy)"/>
<circle cx="302" cy="1303.5" r="7.7" fill="url(#gy)"/>
<circle cx="168.1" cy="1178.4" r="7.7" fill="url(#gy)"/>
<circle cx="298.1" cy="750.6" r="7.7" fill="url(#gy)"/>
<circle cx="142.3" cy="1372.3" r="7.7" fill="url(#gy)"/>
<circle cx="154.7" cy="1048.6" r="7.7" fill="url(#gy)"/>
<circle cx="221.6" cy="1358.1" r="7.7" fill="url(#gy)"/>
<circle cx="316.3" cy="975.2" r="7.7" fill="url(#gy)"/>
<circle cx="137.1" cy="931.1" r="7.7" fill="url(#gy)"/>
<circle cx="349.5" cy="868.9" r="7.7" fill="url(#gy)"/>
<circle cx="229.4" cy="1080.7" r="7.7" fill="url(#gy)"/>
<circle cx="142.8" cy="900.8" r="7.7" fill="url(#gy)"/>
<circle cx="198.7" cy="1251.5" r="7.7" fill="url(#gy)"/>
<circle cx="216.2" cy="771.6" r="7.7" fill="url(#gy)"/>
<circle cx="143.5" cy="1267.6" r="7.7" fill="url(#gy)"/>
<circle cx="277.6" cy="749.3" r="7.7" fill="url(#gy)"/>
<circle cx="151.7" cy="1421.8" r="7.7" fill="url(#gy)"/>
<circle cx="310" cy="1134.7" r="7.7" fill="url(#gy)"/>
<circle cx="331.2" cy="863.2" r="7.7" fill="url(#gy)"/>
<circle cx="209.9" cy="1266.1" r="7.7" fill="url(#gy)"/>
<circle cx="239.3" cy="997.9" r="7.7" fill="url(#gy)"/>
<circle cx="355.7" cy="1240.5" r="7.7" fill="url(#gy)"/>
<circle cx="314.4" cy="807.7" r="7.7" fill="url(#gy)"/>
<circle cx="322.9" cy="902.6" r="7.7" fill="url(#gy)"/>
<circle cx="351.4" cy="726.5" r="7.7" fill="url(#gy)"/>
<circle cx="331" cy="1217.8" r="7.7" fill="url(#gy)"/>
<circle cx="265.2" cy="778.1" r="7.7" fill="url(#gy)"/>
<circle cx="160.3" cy="1412.4" r="7.7" fill="url(#gy)"/>
<circle cx="246.5" cy="1086.5" r="7.7" fill="url(#gy)"/>
<circle cx="289.8" cy="767" r="7.7" fill="url(#gy)"/>
<circle cx="135.5" cy="1030.7" r="7.7" fill="url(#gy)"/>
<circle cx="155.4" cy="1000.2" r="7.7" fill="url(#gy)"/>
<circle cx="141.9" cy="1281.2" r="7.7" fill="url(#gy)"/>
<circle cx="339.6" cy="968.8" r="7.7" fill="url(#gy)"/>
<circle cx="128.2" cy="843" r="7.7" fill="url(#gy)"/>
<circle cx="311.5" cy="1031.9" r="7.7" fill="url(#gy)"/>
<circle cx="315.7" cy="1123.2" r="7.7" fill="url(#gy)"/>
<circle cx="264.3" cy="764.9" r="7.7" fill="url(#gy)"/>
<circle cx="193.4" cy="1299.9" r="7.7" fill="url(#gy)"/>
<circle cx="223.5" cy="1311.4" r="7.7" fill="url(#gy)"/>
<circle cx="314.2" cy="1003" r="7.7" fill="url(#gy)"/>
<circle cx="266.8" cy="873.3" r="7.7" fill="url(#gy)"/>
<circle cx="347.9" cy="793.4" r="7.7" fill="url(#gy)"/>
<circle cx="315.3" cy="926.3" r="7.7" fill="url(#gy)"/>
<circle cx="124.9" cy="1263.9" r="7.7" fill="url(#gy)"/>
<circle cx="138.8" cy="888.7" r="7.7" fill="url(#gy)"/>
<circle cx="203.2" cy="1117.2" r="7.7" fill="url(#gy)"/>
<circle cx="243.3" cy="1342.6" r="7.7" fill="url(#gy)"/>
<circle cx="332.8" cy="1140.5" r="7.7" fill="url(#gy)"/>
<circle cx="209.2" cy="1285.1" r="7.7" fill="url(#gy)"/>
<circle cx="295.4" cy="868.2" r="7.7" fill="url(#gy)"/>
<circle cx="145.2" cy="1213.2" r="7.7" fill="url(#gy)"/>
<circle cx="267.1" cy="815.5" r="7.7" fill="url(#gy)"/>
<circle cx="339" cy="1328.3" r="7.7" fill="url(#gy)"/>
<circle cx="280.4" cy="861.1" r="7.7" fill="url(#gy)"/>
<circle cx="229.3" cy="1232.7" r="7.7" fill="url(#gy)"/>
<circle cx="237.4" cy="901.9" r="7.7" fill="url(#gy)"/>
<circle cx="326.2" cy="804.9" r="7.7" fill="url(#gy)"/>
<circle cx="284.9" cy="972.5" r="7.7" fill="url(#gy)"/>
<circle cx="214.6" cy="1088.8" r="7.7" fill="url(#gy)"/>
<circle cx="264.1" cy="1340.6" r="7.7" fill="url(#gy)"/>
<circle cx="162.9" cy="907" r="7.7" fill="url(#gy)"/>
<circle cx="310.9" cy="843.5" r="7.7" fill="url(#gy)"/>
<circle cx="188.4" cy="1383.6" r="7.7" fill="url(#gy)"/>
<circle cx="309.4" cy="1026.1" r="7.7" fill="url(#gy)"/>
<circle cx="323.5" cy="813.7" r="7.7" fill="url(#gy)"/>
<circle cx="170.8" cy="1226.8" r="7.7" fill="url(#gy)"/>
<circle cx="336.3" cy="954.4" r="7.7" fill="url(#gy)"/>
<circle cx="241" cy="1326.9" r="7.7" fill="url(#gy)"/>
<circle cx="268" cy="1324.4" r="7.7" fill="url(#gy)"/>
<circle cx="146.8" cy="1335.1" r="7.7" fill="url(#gy)"/>
<circle cx="127.7" cy="968" r="7.7" fill="url(#gy)"/>
<circle cx="270" cy="989.3" r="7.7" fill="url(#gy)"/>
<circle cx="270" cy="1377.6" r="7.7" fill="url(#gy)"/>
<circle cx="316" cy="1349.2" r="7.7" fill="url(#gy)"/>
<circle cx="215.9" cy="1117.6" r="7.7" fill="url(#gy)"/>
<circle cx="276.7" cy="839" r="7.7" fill="url(#gy)"/>
<circle cx="213" cy="1344.6" r="7.7" fill="url(#gy)"/>
<circle cx="237.5" cy="985.2" r="7.7" fill="url(#gy)"/>
<circle cx="314.7" cy="955.9" r="7.7" fill="url(#gy)"/>
<circle cx="183.3" cy="1172.2" r="7.7" fill="url(#gy)"/>
<circle cx="243.3" cy="790.4" r="7.7" fill="url(#gy)"/>
<circle cx="211.1" cy="1085.7" r="7.7" fill="url(#gy)"/>
<circle cx="153.8" cy="838.6" r="7.7" fill="url(#gy)"/>
<circle cx="254.5" cy="1316.5" r="7.7" fill="url(#gy)"/>
<circle cx="205.9" cy="1084" r="7.7" fill="url(#gy)"/>
<circle cx="287.4" cy="1016.1" r="7.7" fill="url(#gy)"/>
<circle cx="351.6" cy="1290.7" r="7.7" fill="url(#gy)"/>
<circle cx="261" cy="1244.7" r="7.7" fill="url(#gy)"/>
<circle cx="152.8" cy="730.9" r="7.7" fill="url(#gy)"/>
<circle cx="322.8" cy="1410.4" r="7.7" fill="url(#gy)"/>
<circle cx="279.1" cy="1188.9" r="7.7" fill="url(#gy)"/>
<circle cx="168.8" cy="1206.8" r="7.7" fill="url(#gy)"/>
<circle cx="348.6" cy="1229.4" r="7.7" fill="url(#gy)"/>
<circle cx="171.9" cy="864" r="7.7" fill="url(#gy)"/>
<circle cx="200.5" cy="1370.1" r="7.7" fill="url(#gy)"/>
<circle cx="272.7" cy="1161.5" r="7.7" fill="url(#gy)"/>
<circle cx="244.1" cy="1017.6" r="7.7" fill="url(#gy)"/>
<circle cx="296.1" cy="815.1" r="7.7" fill="url(#gy)"/>
<circle cx="219.2" cy="826" r="7.7" fill="url(#gy)"/>
<circle cx="229.5" cy="748.8" r="7.7" fill="url(#gy)"/>
<circle cx="160.5" cy="990.6" r="7.7" fill="url(#gy)"/>
<circle cx="311.2" cy="1375.8" r="7.7" fill="url(#gy)"/>
<circle cx="327" cy="1142.5" r="7.7" fill="url(#gy)"/>
<circle cx="244.6" cy="750.3" r="7.7" fill="url(#gy)"/>
<circle cx="133" cy="772.9" r="7.7" fill="url(#gy)"/>
<circle cx="228.4" cy="994.7" r="7.7" fill="url(#gy)"/>
<circle cx="219.9" cy="1010.9" r="7.7" fill="url(#gy)"/>
<circle cx="231.8" cy="1413.5" r="7.7" fill="url(#gy)"/>
<circle cx="175.8" cy="998.4" r="7.7" fill="url(#gy)"/>
<circle cx="176.3" cy="726.5" r="7.7" fill="url(#gy)"/>
<circle cx="276.7" cy="956.3" r="7.7" fill="url(#gy)"/>
<circle cx="286.4" cy="1047.6" r="7.7" fill="url(#gy)"/>
<circle cx="335.9" cy="814" r="7.7" fill="url(#gy)"/>
<circle cx="326.4" cy="1287.4" r="7.7" fill="url(#gy)"/>
<circle cx="161.9" cy="802.4" r="7.7" fill="url(#gy)"/>
<circle cx="199.5" cy="1261.8" r="7.7" fill="url(#gy)"/>
<circle cx="318.4" cy="931.3" r="7.7" fill="url(#gy)"/>
<circle cx="259.1" cy="963.8" r="7.7" fill="url(#gy)"/>
<circle cx="234.9" cy="1015.4" r="7.7" fill="url(#gy)"/>
<circle cx="326" cy="1108" r="7.7" fill="url(#gy)"/>
<circle cx="317.1" cy="1160.9" r="7.7" fill="url(#gy)"/>
<circle cx="311.7" cy="1308.4" r="7.7" fill="url(#gy)"/>
<circle cx="312.4" cy="934.4" r="7.7" fill="url(#gy)"/>
<circle cx="261.5" cy="781.8" r="7.7" fill="url(#gy)"/>
<circle cx="272.5" cy="1122.3" r="7.7" fill="url(#gy)"/>
<circle cx="297.8" cy="917.7" r="7.7" fill="url(#gy)"/>
<circle cx="298.6" cy="890.4" r="7.7" fill="url(#gy)"/>
<circle cx="178.4" cy="1183.3" r="7.7" fill="url(#gy)"/>
<circle cx="237.6" cy="838.6" r="7.7" fill="url(#gy)"/>
<circle cx="296.5" cy="1382.5" r="7.7" fill="url(#gy)"/>
<circle cx="145.4" cy="839" r="7.7" fill="url(#gy)"/>
<circle cx="145.4" cy="1313.4" r="7.7" fill="url(#gy)"/>
<circle cx="268.3" cy="969.1" r="7.7" fill="url(#gy)"/>
<circle cx="200.6" cy="1293.8" r="7.7" fill="url(#gy)"/>
<circle cx="282" cy="1174.1" r="7.7" fill="url(#gy)"/>
<circle cx="351.3" cy="1348" r="7.7" fill="url(#gy)"/>
<circle cx="158.6" cy="1294.6" r="7.7" fill="url(#gy)"/>
<circle cx="279.7" cy="1369.4" r="7.7" fill="url(#gy)"/>
<circle cx="132.6" cy="983.2" r="7.7" fill="url(#gy)"/>
<circle cx="204" cy="1037.9" r="7.7" fill="url(#gy)"/>
<circle cx="227.2" cy="1029" r="7.7" fill="url(#gy)"/>
<circle cx="132.7" cy="766.3" r="7.7" fill="url(#gy)"/>
<circle cx="249.5" cy="1057" r="7.7" fill="url(#gy)"/>
<circle cx="321.3" cy="1166.4" r="7.7" fill="url(#gy)"/>
<circle cx="256.1" cy="1076.5" r="7.7" fill="url(#gy)"/>
<circle cx="340.7" cy="1104.5" r="7.7" fill="url(#gy)"/>
<circle cx="133.7" cy="1423.3" r="7.7" fill="url(#gy)"/>
<circle cx="350.7" cy="951.7" r="7.7" fill="url(#gy)"/>
<circle cx="281.4" cy="898.2" r="7.7" fill="url(#gy)"/>
<circle cx="250.8" cy="1139.5" r="7.7" fill="url(#gy)"/>
<circle cx="126.1" cy="1309.9" r="7.7" fill="url(#gy)"/>
<circle cx="284.8" cy="1121.3" r="7.7" fill="url(#gy)"/>
<circle cx="249.4" cy="877.3" r="7.7" fill="url(#gy)"/>
<circle cx="185" cy="832.4" r="7.7" fill="url(#gy)"/>
<circle cx="238.1" cy="1402.9" r="7.7" fill="url(#gy)"/>
<circle cx="187.6" cy="1345.8" r="7.7" fill="url(#gy)"/>
<circle cx="181.1" cy="1213.3" r="7.7" fill="url(#gy)"/>
<circle cx="337.4" cy="1021" r="7.7" fill="url(#gy)"/>
<circle cx="218.8" cy="1196.8" r="7.7" fill="url(#gy)"/>
<circle cx="349.4" cy="922.1" r="7.7" fill="url(#gy)"/>
<circle cx="252.3" cy="1392.6" r="7.7" fill="url(#gy)"/>
<circle cx="164.6" cy="788.6" r="7.7" fill="url(#gy)"/>
<circle cx="229.8" cy="1045.7" r="7.7" fill="url(#gy)"/>
<circle cx="292.5" cy="1146.8" r="7.7" fill="url(#gy)"/>
<circle cx="289.9" cy="1385.5" r="7.7" fill="url(#gy)"/>
<circle cx="222.6" cy="1049.3" r="7.7" fill="url(#gy)"/>
<circle cx="257.6" cy="824.1" r="7.7" fill="url(#gy)"/>
<circle cx="311.6" cy="1341.4" r="7.7" fill="url(#gy)"/>
<circle cx="281.2" cy="926.9" r="7.7" fill="url(#gy)"/>
<circle cx="187.7" cy="800.7" r="7.7" fill="url(#gy)"/>
<circle cx="309.3" cy="1104.1" r="7.7" fill="url(#gy)"/>
<circle cx="164.2" cy="1029" r="7.7" fill="url(#gy)"/>
<circle cx="148.6" cy="1274.2" r="7.7" fill="url(#gy)"/>
<circle cx="194.4" cy="1066.7" r="7.7" fill="url(#gy)"/></g>
<path d="M356,1432.7 L351.3,731.8 L404.8,692.8 L410.3,1390.4 Z" fill="none" stroke="#0000ff" stroke-width="2.8" stroke-linejoin="round"/>
<g stroke="#000020" stroke-width="0.7" stroke-opacity="0.5"><circle cx="401.5" cy="710" r="9.1" fill="url(#gb)"/>
<circle cx="453.2" cy="707.5" r="9.1" fill="url(#gb)"/>
<circle cx="528.7" cy="712.4" r="9.1" fill="url(#gb)"/>
<circle cx="431.3" cy="720.3" r="9.1" fill="url(#gb)"/>
<circle cx="417.9" cy="726.4" r="9.1" fill="url(#gb)"/>
<circle cx="490.9" cy="722.1" r="9.1" fill="url(#gb)"/>
<circle cx="461.7" cy="731.9" r="9.1" fill="url(#gb)"/>
<circle cx="430.1" cy="740.4" r="9.1" fill="url(#gb)"/>
<circle cx="421" cy="738.6" r="9.1" fill="url(#gb)"/>
<circle cx="413" cy="745.3" r="9.1" fill="url(#gb)"/>
<circle cx="397.2" cy="748.3" r="9.1" fill="url(#gb)"/>
<circle cx="507.4" cy="741.6" r="9.1" fill="url(#gb)"/>
<circle cx="423.4" cy="756.2" r="9.1" fill="url(#gb)"/>
<circle cx="382" cy="763.5" r="9.1" fill="url(#gb)"/>
<circle cx="466.6" cy="763.5" r="9.1" fill="url(#gb)"/>
<circle cx="436.2" cy="766" r="9.1" fill="url(#gb)"/>
<circle cx="424" cy="770.8" r="9.1" fill="url(#gb)"/>
<circle cx="388.7" cy="773.3" r="9.1" fill="url(#gb)"/>
<circle cx="506.2" cy="775.7" r="9.1" fill="url(#gb)"/>
<circle cx="433.1" cy="780.6" r="9.1" fill="url(#gb)"/>
<circle cx="411.8" cy="782.4" r="9.1" fill="url(#gb)"/>
<circle cx="393" cy="787.3" r="9.1" fill="url(#gb)"/>
<circle cx="410.6" cy="792.7" r="9.1" fill="url(#gb)"/>
<circle cx="398.4" cy="797" r="9.1" fill="url(#gb)"/>
<circle cx="379" cy="811.6" r="9.1" fill="url(#gb)"/>
<circle cx="418.5" cy="810.4" r="9.1" fill="url(#gb)"/>
<circle cx="435.6" cy="808.6" r="9.1" fill="url(#gb)"/>
<circle cx="490.9" cy="814" r="9.1" fill="url(#gb)"/>
<circle cx="398.4" cy="808" r="9.1" fill="url(#gb)"/>
<circle cx="389.9" cy="817.7" r="9.1" fill="url(#gb)"/>
<circle cx="396.6" cy="826.2" r="9.1" fill="url(#gb)"/>
<circle cx="380.2" cy="830.5" r="9.1" fill="url(#gb)"/>
<circle cx="437.4" cy="830.5" r="9.1" fill="url(#gb)"/>
<circle cx="421.6" cy="834" r="9.1" fill="url(#gb)"/>
<circle cx="448.3" cy="844.5" r="9.1" fill="url(#gb)"/>
<circle cx="461.1" cy="853" r="9.1" fill="url(#gb)"/>
<circle cx="497.6" cy="853" r="9.1" fill="url(#gb)"/>
<circle cx="522" cy="845.7" r="9.1" fill="url(#gb)"/>
<circle cx="533.5" cy="868.8" r="9.1" fill="url(#gb)"/>
<circle cx="413" cy="854.2" r="9.1" fill="url(#gb)"/>
<circle cx="428.9" cy="858.5" r="9.1" fill="url(#gb)"/>
<circle cx="401.5" cy="865.2" r="9.1" fill="url(#gb)"/>
<circle cx="408.2" cy="871.3" r="9.1" fill="url(#gb)"/>
<circle cx="389.3" cy="873.7" r="9.1" fill="url(#gb)"/>
<circle cx="461.1" cy="870" r="9.1" fill="url(#gb)"/>
<circle cx="450.2" cy="880.4" r="9.1" fill="url(#gb)"/>
<circle cx="435" cy="880.4" r="9.1" fill="url(#gb)"/>
<circle cx="415.5" cy="879.8" r="9.1" fill="url(#gb)"/>
<circle cx="399.6" cy="881" r="9.1" fill="url(#gb)"/>
<circle cx="385" cy="887.1" r="9.1" fill="url(#gb)"/>
<circle cx="384.4" cy="893.8" r="9.1" fill="url(#gb)"/>
<circle cx="370.4" cy="896.2" r="9.1" fill="url(#gb)"/>
<circle cx="436.2" cy="892.6" r="9.1" fill="url(#gb)"/>
<circle cx="417.9" cy="892.6" r="9.1" fill="url(#gb)"/>
<circle cx="467.8" cy="893.2" r="9.1" fill="url(#gb)"/>
<circle cx="472.7" cy="899.3" r="9.1" fill="url(#gb)"/>
<circle cx="447.1" cy="902.9" r="9.1" fill="url(#gb)"/>
<circle cx="460.5" cy="907.8" r="9.1" fill="url(#gb)"/>
<circle cx="374.1" cy="902.9" r="9.1" fill="url(#gb)"/>
<circle cx="430.1" cy="911.4" r="9.1" fill="url(#gb)"/>
<circle cx="443.5" cy="916.3" r="9.1" fill="url(#gb)"/>
<circle cx="372.9" cy="920" r="9.1" fill="url(#gb)"/>
<circle cx="386.9" cy="915.7" r="9.1" fill="url(#gb)"/>
<circle cx="399.6" cy="912.6" r="9.1" fill="url(#gb)"/>
<circle cx="403.9" cy="923.6" r="9.1" fill="url(#gb)"/>
<circle cx="425.2" cy="929.7" r="9.1" fill="url(#gb)"/>
<circle cx="436.2" cy="929.1" r="9.1" fill="url(#gb)"/>
<circle cx="448.3" cy="921.2" r="9.1" fill="url(#gb)"/>
<circle cx="419.1" cy="934.6" r="9.1" fill="url(#gb)"/>
<circle cx="472.1" cy="936.4" r="9.1" fill="url(#gb)"/>
<circle cx="397.8" cy="940.6" r="9.1" fill="url(#gb)"/>
<circle cx="382.6" cy="951.6" r="9.1" fill="url(#gb)"/>
<circle cx="461.7" cy="946.7" r="9.1" fill="url(#gb)"/>
<circle cx="458.7" cy="952.2" r="9.1" fill="url(#gb)"/>
<circle cx="475.1" cy="950.4" r="9.1" fill="url(#gb)"/>
<circle cx="489.1" cy="951" r="9.1" fill="url(#gb)"/>
<circle cx="440.4" cy="956.5" r="9.1" fill="url(#gb)"/>
<circle cx="415.5" cy="962" r="9.1" fill="url(#gb)"/>
<circle cx="355.8" cy="963.8" r="9.1" fill="url(#gb)"/>
<circle cx="366.2" cy="969.3" r="9.1" fill="url(#gb)"/>
<circle cx="484.2" cy="969.3" r="9.1" fill="url(#gb)"/>
<circle cx="447.7" cy="972.9" r="9.1" fill="url(#gb)"/>
<circle cx="393.6" cy="974.7" r="9.1" fill="url(#gb)"/>
<circle cx="417.9" cy="974.7" r="9.1" fill="url(#gb)"/>
<circle cx="404.5" cy="980.8" r="9.1" fill="url(#gb)"/>
<circle cx="421.6" cy="979.6" r="9.1" fill="url(#gb)"/>
<circle cx="441" cy="986.9" r="9.1" fill="url(#gb)"/>
<circle cx="426.4" cy="992.4" r="9.1" fill="url(#gb)"/>
<circle cx="473.9" cy="983.9" r="9.1" fill="url(#gb)"/>
<circle cx="481.2" cy="991.8" r="9.1" fill="url(#gb)"/>
<circle cx="530.5" cy="987.5" r="9.1" fill="url(#gb)"/>
<circle cx="386.3" cy="993.6" r="9.1" fill="url(#gb)"/>
<circle cx="400.3" cy="997.3" r="9.1" fill="url(#gb)"/>
<circle cx="383.2" cy="1005.2" r="9.1" fill="url(#gb)"/>
<circle cx="368.6" cy="1011.9" r="9.1" fill="url(#gb)"/>
<circle cx="449.6" cy="999.7" r="9.1" fill="url(#gb)"/>
<circle cx="442.3" cy="1004" r="9.1" fill="url(#gb)"/>
<circle cx="450.8" cy="1007" r="9.1" fill="url(#gb)"/>
<circle cx="447.1" cy="1015.5" r="9.1" fill="url(#gb)"/>
<circle cx="404.5" cy="1014.3" r="9.1" fill="url(#gb)"/>
<circle cx="420.3" cy="1021" r="9.1" fill="url(#gb)"/>
<circle cx="473.9" cy="1011.9" r="9.1" fill="url(#gb)"/>
<circle cx="485.5" cy="1019.2" r="9.1" fill="url(#gb)"/>
<circle cx="503.1" cy="1021" r="9.1" fill="url(#gb)"/>
<circle cx="538.4" cy="1010" r="9.1" fill="url(#gb)"/>
<circle cx="400.3" cy="1030.1" r="9.1" fill="url(#gb)"/>
<circle cx="417.9" cy="1030.1" r="9.1" fill="url(#gb)"/>
<circle cx="445.3" cy="1025.9" r="9.1" fill="url(#gb)"/>
<circle cx="432.5" cy="1033.2" r="9.1" fill="url(#gb)"/>
<circle cx="461.7" cy="1039.9" r="9.1" fill="url(#gb)"/>
<circle cx="444.1" cy="1043.5" r="9.1" fill="url(#gb)"/>
<circle cx="385" cy="1046.6" r="9.1" fill="url(#gb)"/>
<circle cx="394.8" cy="1046" r="9.1" fill="url(#gb)"/>
<circle cx="424" cy="1051.4" r="9.1" fill="url(#gb)"/>
<circle cx="484.9" cy="1050.2" r="9.1" fill="url(#gb)"/>
<circle cx="491.5" cy="1052.6" r="9.1" fill="url(#gb)"/>
<circle cx="526.2" cy="1047.8" r="9.1" fill="url(#gb)"/>
<circle cx="397.2" cy="1060" r="9.1" fill="url(#gb)"/>
<circle cx="429.5" cy="1064.2" r="9.1" fill="url(#gb)"/>
<circle cx="437.4" cy="1074" r="9.1" fill="url(#gb)"/>
<circle cx="360.1" cy="1078.8" r="9.1" fill="url(#gb)"/>
<circle cx="383.8" cy="1074" r="9.1" fill="url(#gb)"/>
<circle cx="391.1" cy="1074.6" r="9.1" fill="url(#gb)"/>
<circle cx="458.7" cy="1076.4" r="9.1" fill="url(#gb)"/>
<circle cx="518.3" cy="1077" r="9.1" fill="url(#gb)"/>
<circle cx="411.2" cy="1083.7" r="9.1" fill="url(#gb)"/>
<circle cx="424.6" cy="1085.5" r="9.1" fill="url(#gb)"/>
<circle cx="452" cy="1086.7" r="9.1" fill="url(#gb)"/>
<circle cx="464.2" cy="1086.7" r="9.1" fill="url(#gb)"/>
<circle cx="469" cy="1100.1" r="9.1" fill="url(#gb)"/>
<circle cx="509.2" cy="1101.3" r="9.1" fill="url(#gb)"/>
<circle cx="529.9" cy="1103.8" r="9.1" fill="url(#gb)"/>
<circle cx="388.7" cy="1097.7" r="9.1" fill="url(#gb)"/>
<circle cx="397.2" cy="1105" r="9.1" fill="url(#gb)"/>
<circle cx="416.7" cy="1103.8" r="9.1" fill="url(#gb)"/>
<circle cx="430.7" cy="1103.8" r="9.1" fill="url(#gb)"/>
<circle cx="485.5" cy="1109.9" r="9.1" fill="url(#gb)"/>
<circle cx="366.2" cy="1112.3" r="9.1" fill="url(#gb)"/>
<circle cx="445.9" cy="1112.3" r="9.1" fill="url(#gb)"/>
<circle cx="542.7" cy="1075.4" r="9.1" fill="url(#gb)"/>
<circle cx="503.1" cy="1113.5" r="9.1" fill="url(#gb)"/>
<circle cx="528.1" cy="1123.3" r="9.1" fill="url(#gb)"/>
<circle cx="403.3" cy="1121.4" r="9.1" fill="url(#gb)"/>
<circle cx="416.7" cy="1122" r="9.1" fill="url(#gb)"/>
<circle cx="430.1" cy="1116.6" r="9.1" fill="url(#gb)"/>
<circle cx="443.5" cy="1118.4" r="9.1" fill="url(#gb)"/>
<circle cx="445.9" cy="1123.3" r="9.1" fill="url(#gb)"/>
<circle cx="470.3" cy="1120.8" r="9.1" fill="url(#gb)"/>
<circle cx="486.7" cy="1130.6" r="9.1" fill="url(#gb)"/>
<circle cx="382.6" cy="1135.4" r="9.1" fill="url(#gb)"/>
<circle cx="388.7" cy="1144" r="9.1" fill="url(#gb)"/>
<circle cx="399.6" cy="1142.1" r="9.1" fill="url(#gb)"/>
<circle cx="375.3" cy="1144" r="9.1" fill="url(#gb)"/>
<circle cx="433.7" cy="1139.1" r="9.1" fill="url(#gb)"/>
<circle cx="474.5" cy="1146.4" r="9.1" fill="url(#gb)"/>
<circle cx="436.8" cy="1154.9" r="9.1" fill="url(#gb)"/>
<circle cx="426.4" cy="1165.3" r="9.1" fill="url(#gb)"/>
<circle cx="442.3" cy="1167.1" r="9.1" fill="url(#gb)"/>
<circle cx="452.6" cy="1173.8" r="9.1" fill="url(#gb)"/>
<circle cx="444.1" cy="1178" r="9.1" fill="url(#gb)"/>
<circle cx="450.2" cy="1186" r="9.1" fill="url(#gb)"/>
<circle cx="391.1" cy="1172" r="9.1" fill="url(#gb)"/>
<circle cx="407" cy="1170.7" r="9.1" fill="url(#gb)"/>
<circle cx="396.6" cy="1186" r="9.1" fill="url(#gb)"/>
<circle cx="419.1" cy="1190.8" r="9.1" fill="url(#gb)"/>
<circle cx="505.5" cy="1192" r="9.1" fill="url(#gb)"/>
<circle cx="365.6" cy="1196.3" r="9.1" fill="url(#gb)"/>
<circle cx="385" cy="1200.6" r="9.1" fill="url(#gb)"/>
<circle cx="400.9" cy="1206" r="9.1" fill="url(#gb)"/>
<circle cx="415.5" cy="1214" r="9.1" fill="url(#gb)"/>
<circle cx="427.6" cy="1204.8" r="9.1" fill="url(#gb)"/>
<circle cx="441" cy="1201.2" r="9.1" fill="url(#gb)"/>
<circle cx="450.8" cy="1216.4" r="9.1" fill="url(#gb)"/>
<circle cx="470.3" cy="1202.4" r="9.1" fill="url(#gb)"/>
<circle cx="470.3" cy="1215.8" r="9.1" fill="url(#gb)"/>
<circle cx="496.4" cy="1215.2" r="9.1" fill="url(#gb)"/>
<circle cx="372.3" cy="1207.9" r="9.1" fill="url(#gb)"/>
<circle cx="410.6" cy="1229.8" r="9.1" fill="url(#gb)"/>
<circle cx="441" cy="1225.5" r="9.1" fill="url(#gb)"/>
<circle cx="438.6" cy="1237.1" r="9.1" fill="url(#gb)"/>
<circle cx="471.5" cy="1237.1" r="9.1" fill="url(#gb)"/>
<circle cx="483" cy="1240.7" r="9.1" fill="url(#gb)"/>
<circle cx="463.6" cy="1247.4" r="9.1" fill="url(#gb)"/>
<circle cx="379.6" cy="1242.6" r="9.1" fill="url(#gb)"/>
<circle cx="422.8" cy="1246.2" r="9.1" fill="url(#gb)"/>
<circle cx="443.5" cy="1249.9" r="9.1" fill="url(#gb)"/>
<circle cx="391.1" cy="1252.9" r="9.1" fill="url(#gb)"/>
<circle cx="503.1" cy="1261.4" r="9.1" fill="url(#gb)"/>
<circle cx="370.4" cy="1266.3" r="9.1" fill="url(#gb)"/>
<circle cx="387.5" cy="1262" r="9.1" fill="url(#gb)"/>
<circle cx="402.1" cy="1264.5" r="9.1" fill="url(#gb)"/>
<circle cx="427.6" cy="1262" r="9.1" fill="url(#gb)"/>
<circle cx="439.2" cy="1268.7" r="9.1" fill="url(#gb)"/>
<circle cx="425.8" cy="1273.6" r="9.1" fill="url(#gb)"/>
<circle cx="466" cy="1266.3" r="9.1" fill="url(#gb)"/>
<circle cx="474.5" cy="1277.9" r="9.1" fill="url(#gb)"/>
<circle cx="415.5" cy="1280.3" r="9.1" fill="url(#gb)"/>
<circle cx="380.8" cy="1280.9" r="9.1" fill="url(#gb)"/>
<circle cx="407" cy="1298" r="9.1" fill="url(#gb)"/>
<circle cx="420.3" cy="1299.8" r="9.1" fill="url(#gb)"/>
<circle cx="438.6" cy="1302.2" r="9.1" fill="url(#gb)"/>
<circle cx="445.9" cy="1296.1" r="9.1" fill="url(#gb)"/>
<circle cx="370.4" cy="1303.4" r="9.1" fill="url(#gb)"/>
<circle cx="455" cy="1314.4" r="9.1" fill="url(#gb)"/>
<circle cx="419.7" cy="1313.2" r="9.1" fill="url(#gb)"/>
<circle cx="410.6" cy="1317.4" r="9.1" fill="url(#gb)"/>
<circle cx="363.1" cy="1316.8" r="9.1" fill="url(#gb)"/>
<circle cx="388.1" cy="1316.8" r="9.1" fill="url(#gb)"/>
<circle cx="447.1" cy="1322.9" r="9.1" fill="url(#gb)"/>
<circle cx="461.1" cy="1328.4" r="9.1" fill="url(#gb)"/>
<circle cx="373.5" cy="1326" r="9.1" fill="url(#gb)"/>
<circle cx="413.6" cy="1330.8" r="9.1" fill="url(#gb)"/>
<circle cx="447.1" cy="1336.3" r="9.1" fill="url(#gb)"/>
<circle cx="486.1" cy="1338.7" r="9.1" fill="url(#gb)"/>
<circle cx="511" cy="1343" r="9.1" fill="url(#gb)"/>
<circle cx="497.6" cy="1353.3" r="9.1" fill="url(#gb)"/>
<circle cx="399" cy="1350.9" r="9.1" fill="url(#gb)"/>
<circle cx="413" cy="1352.1" r="9.1" fill="url(#gb)"/>
<circle cx="416.1" cy="1361.9" r="9.1" fill="url(#gb)"/>
<circle cx="442.3" cy="1357.6" r="9.1" fill="url(#gb)"/>
<circle cx="473.9" cy="1366.1" r="9.1" fill="url(#gb)"/>
<circle cx="366.2" cy="1368.6" r="9.1" fill="url(#gb)"/>
<circle cx="385.6" cy="1377.7" r="9.1" fill="url(#gb)"/>
<circle cx="459.3" cy="1378.3" r="9.1" fill="url(#gb)"/>
<circle cx="465.4" cy="1382.6" r="9.1" fill="url(#gb)"/>
<circle cx="391.1" cy="1392.3" r="9.1" fill="url(#gb)"/>
<circle cx="402.1" cy="1392.3" r="9.1" fill="url(#gb)"/>
<circle cx="384.4" cy="1399.6" r="9.1" fill="url(#gb)"/>
<circle cx="406.3" cy="1415.4" r="9.1" fill="url(#gb)"/></g>
<path d="M524.8,1430.8 L521.3,731.4 L574.5,691.8 L579.4,1392.4 Z" fill="none" stroke="#00ff00" stroke-width="2.8" stroke-linejoin="round"/>
<line x1="583.8" y1="943.2" x2="609.3" y2="924.2" stroke="#00a800" stroke-width="4.6"/>
<line x1="670" y1="945.2" x2="685.1" y2="944.8" stroke="#00a800" stroke-width="4.6"/>
<line x1="685.1" y1="944.8" x2="663.6" y2="959.3" stroke="#00a800" stroke-width="4.6"/>
<line x1="663.6" y1="959.3" x2="668.9" y2="979.4" stroke="#00a800" stroke-width="4.6"/>
<line x1="707" y1="830.6" x2="702.7" y2="856.6" stroke="#00a800" stroke-width="4.6"/>
<line x1="613.6" y1="1322.9" x2="593.5" y2="1348.9" stroke="#00a800" stroke-width="4.6"/>
<circle cx="553.9" cy="843.3" r="8.8" fill="url(#gg)"/>
<circle cx="582.7" cy="890.3" r="8.8" fill="url(#gg)"/>
<circle cx="583.8" cy="943.2" r="8.8" fill="url(#gg)"/>
<circle cx="609.3" cy="924.2" r="8.8" fill="url(#gg)"/>
<circle cx="670" cy="945.2" r="8.8" fill="url(#gg)"/>
<circle cx="685.1" cy="944.8" r="8.8" fill="url(#gg)"/>
<circle cx="663.6" cy="959.3" r="8.8" fill="url(#gg)"/>
<circle cx="668.9" cy="979.4" r="8.8" fill="url(#gg)"/>
<circle cx="707" cy="830.6" r="8.8" fill="url(#gg)"/>
<circle cx="702.7" cy="856.6" r="8.8" fill="url(#gg)"/>
<circle cx="542.7" cy="1045.1" r="8.8" fill="url(#gg)"/>
<circle cx="572.9" cy="1062.7" r="8.8" fill="url(#gg)"/>
<circle cx="537.2" cy="1081.9" r="8.8" fill="url(#gg)"/>
<circle cx="613.6" cy="1322.9" r="8.8" fill="url(#gg)"/>
<circle cx="593.5" cy="1348.9" r="8.8" fill="url(#gg)"/>
<path d="M695.9,1431 L691.3,731.2 L743.9,691.6 L749,1392 Z" fill="none" stroke="#ff0000" stroke-width="2.8" stroke-linejoin="round"/>
<line x1="866.7" y1="718.5" x2="904.7" y2="720.9" stroke="#a80000" stroke-width="5"/>
<line x1="866.7" y1="718.5" x2="904.7" y2="720.9" stroke="#e01010" stroke-width="1.8"/>
<line x1="866.7" y1="718.5" x2="885.7" y2="749.3" stroke="#a80000" stroke-width="5"/>
<line x1="866.7" y1="718.5" x2="885.7" y2="749.3" stroke="#e01010" stroke-width="1.8"/>
<line x1="866.7" y1="718.5" x2="849.3" y2="756.5" stroke="#a80000" stroke-width="5"/>
<line x1="866.7" y1="718.5" x2="849.3" y2="756.5" stroke="#e01010" stroke-width="1.8"/>
<line x1="866.7" y1="718.5" x2="805.8" y2="771.5" stroke="#a80000" stroke-width="5"/>
<line x1="866.7" y1="718.5" x2="805.8" y2="771.5" stroke="#e01010" stroke-width="1.8"/>
<line x1="904.7" y1="720.9" x2="885.7" y2="749.3" stroke="#a80000" stroke-width="5"/>
<line x1="904.7" y1="720.9" x2="885.7" y2="749.3" stroke="#e01010" stroke-width="1.8"/>
<line x1="904.7" y1="720.9" x2="849.3" y2="756.5" stroke="#a80000" stroke-width="5"/>
<line x1="904.7" y1="720.9" x2="849.3" y2="756.5" stroke="#e01010" stroke-width="1.8"/>
<line x1="885.7" y1="749.3" x2="849.3" y2="756.5" stroke="#a80000" stroke-width="5"/>
<line x1="885.7" y1="749.3" x2="849.3" y2="756.5" stroke="#e01010" stroke-width="1.8"/>
<line x1="849.3" y1="756.5" x2="805.8" y2="771.5" stroke="#a80000" stroke-width="5"/>
<line x1="849.3" y1="756.5" x2="805.8" y2="771.5" stroke="#e01010" stroke-width="1.8"/>
<circle cx="866.7" cy="718.5" r="9.1" fill="url(#gr)"/>
<circle cx="904.7" cy="720.9" r="9.1" fill="url(#gr)"/>
<circle cx="885.7" cy="749.3" r="9.1" fill="url(#gr)"/>
<circle cx="849.3" cy="756.5" r="9.1" fill="url(#gr)"/>
<circle cx="805.8" cy="771.5" r="9.1" fill="url(#gr)"/>
<line x1="742.5" y1="853" x2="788.4" y2="841.9" stroke="#a80000" stroke-width="5"/>
<line x1="742.5" y1="853" x2="788.4" y2="841.9" stroke="#e01010" stroke-width="1.8"/>
<line x1="788.4" y1="841.9" x2="820" y2="850.6" stroke="#a80000" stroke-width="5"/>
<line x1="788.4" y1="841.9" x2="820" y2="850.6" stroke="#e01010" stroke-width="1.8"/>
<line x1="820" y1="850.6" x2="812.9" y2="880.7" stroke="#a80000" stroke-width="5"/>
<line x1="820" y1="850.6" x2="812.9" y2="880.7" stroke="#e01010" stroke-width="1.8"/>
<line x1="812.9" y1="880.7" x2="766.2" y2="876" stroke="#a80000" stroke-width="5"/>
<line x1="812.9" y1="880.7" x2="766.2" y2="876" stroke="#e01010" stroke-width="1.8"/>
<line x1="766.2" y1="876" x2="739.3" y2="864.9" stroke="#a80000" stroke-width="5"/>
<line x1="766.2" y1="876" x2="739.3" y2="864.9" stroke="#e01010" stroke-width="1.8"/>
<line x1="739.3" y1="864.9" x2="742.5" y2="853" stroke="#a80000" stroke-width="5"/>
<line x1="739.3" y1="864.9" x2="742.5" y2="853" stroke="#e01010" stroke-width="1.8"/>
<line x1="739.3" y1="864.9" x2="757.5" y2="900.5" stroke="#a80000" stroke-width="5"/>
<line x1="739.3" y1="864.9" x2="757.5" y2="900.5" stroke="#e01010" stroke-width="1.8"/>
<line x1="757.5" y1="900.5" x2="766.2" y2="876" stroke="#a80000" stroke-width="5"/>
<line x1="757.5" y1="900.5" x2="766.2" y2="876" stroke="#e01010" stroke-width="1.8"/>
<line x1="788.4" y1="841.9" x2="812.9" y2="880.7" stroke="#a80000" stroke-width="5"/>
<line x1="788.4" y1="841.9" x2="812.9" y2="880.7" stroke="#e01010" stroke-width="1.8"/>
<line x1="766.2" y1="876" x2="820" y2="850.6" stroke="#a80000" stroke-width="5"/>
<line x1="766.2" y1="876" x2="820" y2="850.6" stroke="#e01010" stroke-width="1.8"/>
<line x1="739.3" y1="864.9" x2="788.4" y2="841.9" stroke="#a80000" stroke-width="5"/>
<line x1="739.3" y1="864.9" x2="788.4" y2="841.9" stroke="#e01010" stroke-width="1.8"/>
<circle cx="788.4" cy="841.9" r="9.1" fill="url(#gr)"/>
<circle cx="820" cy="850.6" r="9.1" fill="url(#gr)"/>
<circle cx="742.5" cy="853" r="9.1" fill="url(#gr)"/>
<circle cx="739.3" cy="864.9" r="9.1" fill="url(#gr)"/>
<circle cx="730.6" cy="880.7" r="9.1" fill="url(#gr)"/>
<circle cx="766.2" cy="876" r="9.1" fill="url(#gr)"/>
<circle cx="812.9" cy="880.7" r="9.1" fill="url(#gr)"/>
<circle cx="757.5" cy="900.5" r="9.1" fill="url(#gr)"/>
<line x1="1112.4" y1="715.6" x2="1148.6" y2="709.7" stroke="#a80000" stroke-width="5"/>
<line x1="1112.4" y1="715.6" x2="1148.6" y2="709.7" stroke="#e01010" stroke-width="1.8"/>
<line x1="1100.2" y1="711" x2="1148.6" y2="709.7" stroke="#a80000" stroke-width="5"/>
<line x1="1100.2" y1="711" x2="1148.6" y2="709.7" stroke="#e01010" stroke-width="1.8"/>
<circle cx="1100.2" cy="711" r="9.1" fill="url(#gr)"/>
<circle cx="1112.4" cy="715.6" r="9.1" fill="url(#gr)"/>
<circle cx="1148.6" cy="709.7" r="9.1" fill="url(#gr)"/>
<line x1="1199.7" y1="801.4" x2="1217.4" y2="782.2" stroke="#a80000" stroke-width="5"/>
<line x1="1199.7" y1="801.4" x2="1217.4" y2="782.2" stroke="#e01010" stroke-width="1.8"/>
<circle cx="1199.7" cy="801.4" r="9.1" fill="url(#gr)"/>
<circle cx="1217.4" cy="782.2" r="9.1" fill="url(#gr)"/>
<line x1="1270" y1="767.6" x2="1275.1" y2="798.6" stroke="#a80000" stroke-width="5"/>
<line x1="1270" y1="767.6" x2="1275.1" y2="798.6" stroke="#e01010" stroke-width="1.8"/>
<circle cx="1270" cy="767.6" r="9.1" fill="url(#gr)"/>
<circle cx="1275.1" cy="798.6" r="9.1" fill="url(#gr)"/>
<line x1="1341.7" y1="841.5" x2="1340.6" y2="861.6" stroke="#a80000" stroke-width="5"/>
<line x1="1341.7" y1="841.5" x2="1340.6" y2="861.6" stroke="#e01010" stroke-width="1.8"/>
<circle cx="1341.7" cy="841.5" r="9.1" fill="url(#gr)"/>
<circle cx="1340.6" cy="861.6" r="9.1" fill="url(#gr)"/>
<line x1="1490.1" y1="872.9" x2="1487.4" y2="895.3" stroke="#a80000" stroke-width="5"/>
<line x1="1490.1" y1="872.9" x2="1487.4" y2="895.3" stroke="#e01010" stroke-width="1.8"/>
<circle cx="1490.1" cy="872.9" r="9.1" fill="url(#gr)"/>
<circle cx="1487.4" cy="895.3" r="9.1" fill="url(#gr)"/>
<line x1="1434.8" y1="956.7" x2="1419.4" y2="973.1" stroke="#a80000" stroke-width="5"/>
<line x1="1434.8" y1="956.7" x2="1419.4" y2="973.1" stroke="#e01010" stroke-width="1.8"/>
<circle cx="1434.8" cy="956.7" r="9.1" fill="url(#gr)"/>
<circle cx="1419.4" cy="973.1" r="9.1" fill="url(#gr)"/>
<line x1="1522.2" y1="961.6" x2="1522.2" y2="955.6" stroke="#a80000" stroke-width="5"/>
<line x1="1522.2" y1="961.6" x2="1522.2" y2="955.6" stroke="#e01010" stroke-width="1.8"/>
<circle cx="1522.2" cy="961.6" r="9.1" fill="url(#gr)"/>
<circle cx="1522.2" cy="955.6" r="9.1" fill="url(#gr)"/>
<line x1="764.1" y1="994.3" x2="764.9" y2="1015.9" stroke="#a80000" stroke-width="5"/>
<line x1="764.1" y1="994.3" x2="764.9" y2="1015.9" stroke="#e01010" stroke-width="1.8"/>
<circle cx="764.1" cy="994.3" r="9.1" fill="url(#gr)"/>
<circle cx="764.9" cy="1015.9" r="9.1" fill="url(#gr)"/>
<line x1="1033.2" y1="1023.8" x2="1021.8" y2="1036.3" stroke="#a80000" stroke-width="5"/>
<line x1="1033.2" y1="1023.8" x2="1021.8" y2="1036.3" stroke="#e01010" stroke-width="1.8"/>
<circle cx="1033.2" cy="1023.8" r="9.1" fill="url(#gr)"/>
<circle cx="1021.8" cy="1036.3" r="9.1" fill="url(#gr)"/>
<line x1="1151.9" y1="985.1" x2="1157.8" y2="1014.7" stroke="#a80000" stroke-width="5"/>
<line x1="1151.9" y1="985.1" x2="1157.8" y2="1014.7" stroke="#e01010" stroke-width="1.8"/>
<circle cx="1151.9" cy="985.1" r="9.1" fill="url(#gr)"/>
<circle cx="1157.8" cy="1014.7" r="9.1" fill="url(#gr)"/>
<line x1="1274.2" y1="953.7" x2="1282.5" y2="978.2" stroke="#a80000" stroke-width="5"/>
<line x1="1274.2" y1="953.7" x2="1282.5" y2="978.2" stroke="#e01010" stroke-width="1.8"/>
<circle cx="1274.2" cy="953.7" r="9.1" fill="url(#gr)"/>
<circle cx="1282.5" cy="978.2" r="9.1" fill="url(#gr)"/>
<line x1="1261.1" y1="1074.8" x2="1287.2" y2="1074.8" stroke="#a80000" stroke-width="5"/>
<line x1="1261.1" y1="1074.8" x2="1287.2" y2="1074.8" stroke="#e01010" stroke-width="1.8"/>
<circle cx="1261.1" cy="1074.8" r="9.1" fill="url(#gr)"/>
<circle cx="1287.2" cy="1074.8" r="9.1" fill="url(#gr)"/>
<line x1="1316.9" y1="1049.9" x2="1322.8" y2="1029.7" stroke="#a80000" stroke-width="5"/>
<line x1="1316.9" y1="1049.9" x2="1322.8" y2="1029.7" stroke="#e01010" stroke-width="1.8"/>
<line x1="1316.9" y1="1049.9" x2="1344.2" y2="1032.1" stroke="#a80000" stroke-width="5"/>
<line x1="1316.9" y1="1049.9" x2="1344.2" y2="1032.1" stroke="#e01010" stroke-width="1.8"/>
<line x1="1316.9" y1="1049.9" x2="1362" y2="1055.8" stroke="#a80000" stroke-width="5"/>
<line x1="1316.9" y1="1049.9" x2="1362" y2="1055.8" stroke="#e01010" stroke-width="1.8"/>
<line x1="1316.9" y1="1049.9" x2="1363.2" y2="1073.6" stroke="#a80000" stroke-width="5"/>
<line x1="1316.9" y1="1049.9" x2="1363.2" y2="1073.6" stroke="#e01010" stroke-width="1.8"/>
<line x1="1316.9" y1="1049.9" x2="1338.2" y2="1043.5" stroke="#a80000" stroke-width="5"/>
<line x1="1316.9" y1="1049.9" x2="1338.2" y2="1043.5" stroke="#e01010" stroke-width="1.8"/>
<line x1="1316.9" y1="1049.9" x2="1296.7" y2="1096.2" stroke="#a80000" stroke-width="5"/>
<line x1="1316.9" y1="1049.9" x2="1296.7" y2="1096.2" stroke="#e01010" stroke-width="1.8"/>
<line x1="1316.9" y1="1049.9" x2="1324" y2="1092.6" stroke="#a80000" stroke-width="5"/>
<line x1="1316.9" y1="1049.9" x2="1324" y2="1092.6" stroke="#e01010" stroke-width="1.8"/>
<line x1="1322.8" y1="1029.7" x2="1344.2" y2="1032.1" stroke="#a80000" stroke-width="5"/>
<line x1="1322.8" y1="1029.7" x2="1344.2" y2="1032.1" stroke="#e01010" stroke-width="1.8"/>
<line x1="1322.8" y1="1029.7" x2="1362" y2="1055.8" stroke="#a80000" stroke-width="5"/>
<line x1="1322.8" y1="1029.7" x2="1362" y2="1055.8" stroke="#e01010" stroke-width="1.8"/>
<line x1="1322.8" y1="1029.7" x2="1363.2" y2="1073.6" stroke="#a80000" stroke-width="5"/>
<line x1="1322.8" y1="1029.7" x2="1363.2" y2="1073.6" stroke="#e01010" stroke-width="1.8"/>
<line x1="1322.8" y1="1029.7" x2="1338.2" y2="1043.5" stroke="#a80000" stroke-width="5"/>
<line x1="1322.8" y1="1029.7" x2="1338.2" y2="1043.5" stroke="#e01010" stroke-width="1.8"/>
<line x1="1344.2" y1="1032.1" x2="1362" y2="1055.8" stroke="#a80000" stroke-width="5"/>
<line x1="1344.2" y1="1032.1" x2="1362" y2="1055.8" stroke="#e01010" stroke-width="1.8"/>
<line x1="1344.2" y1="1032.1" x2="1363.2" y2="1073.6" stroke="#a80000" stroke-width="5"/>
<line x1="1344.2" y1="1032.1" x2="1363.2" y2="1073.6" stroke="#e01010" stroke-width="1.8"/>
<line x1="1344.2" y1="1032.1" x2="1338.2" y2="1043.5" stroke="#a80000" stroke-width="5"/>
<line x1="1344.2" y1="1032.1" x2="1338.2" y2="1043.5" stroke="#e01010" stroke-width="1.8"/>
<line x1="1362" y1="1055.8" x2="1363.2" y2="1073.6" stroke="#a80000" stroke-width="5"/>
<line x1="1362" y1="1055.8" x2="1363.2" y2="1073.6" stroke="#e01010" stroke-width="1.8"/>
<line x1="1362" y1="1055.8" x2="1338.2" y2="1043.5" stroke="#a80000" stroke-width="5"/>
<line x1="1362" y1="1055.8" x2="1338.2" y2="1043.5" stroke="#e01010" stroke-width="1.8"/>
<line x1="1362" y1="1055.8" x2="1324" y2="1092.6" stroke="#a80000" stroke-width="5"/>
<line x1="1362" y1="1055.8" x2="1324" y2="1092.6" stroke="#e01010" stroke-width="1.8"/>
<line x1="1362" y1="1055.8" x2="1358.4" y2="1100.9" stroke="#a80000" stroke-width="5"/>
<line x1="1362" y1="1055.8" x2="1358.4" y2="1100.9" stroke="#e01010" stroke-width="1.8"/>
<line x1="1363.2" y1="1073.6" x2="1338.2" y2="1043.5" stroke="#a80000" stroke-width="5"/>
<line x1="1363.2" y1="1073.6" x2="1338.2" y2="1043.5" stroke="#e01010" stroke-width="1.8"/>
<line x1="1363.2" y1="1073.6" x2="1324" y2="1092.6" stroke="#a80000" stroke-width="5"/>
<line x1="1363.2" y1="1073.6" x2="1324" y2="1092.6" stroke="#e01010" stroke-width="1.8"/>
<line x1="1363.2" y1="1073.6" x2="1358.4" y2="1100.9" stroke="#a80000" stroke-width="5"/>
<line x1="1363.2" y1="1073.6" x2="1358.4" y2="1100.9" stroke="#e01010" stroke-width="1.8"/>
<line x1="1338.2" y1="1043.5" x2="1324" y2="1092.6" stroke="#a80000" stroke-width="5"/>
<line x1="1338.2" y1="1043.5" x2="1324" y2="1092.6" stroke="#e01010" stroke-width="1.8"/>
<line x1="1338.2" y1="1043.5" x2="1358.4" y2="1100.9" stroke="#a80000" stroke-width="5"/>
<line x1="1338.2" y1="1043.5" x2="1358.4" y2="1100.9" stroke="#e01010" stroke-width="1.8"/>
<line x1="1296.7" y1="1096.2" x2="1324" y2="1092.6" stroke="#a80000" stroke-width="5"/>
<line x1="1296.7" y1="1096.2" x2="1324" y2="1092.6" stroke="#e01010" stroke-width="1.8"/>
<line x1="1296.7" y1="1096.2" x2="1358.4" y2="1100.9" stroke="#a80000" stroke-width="5"/>
<line x1="1296.7" y1="1096.2" x2="1358.4" y2="1100.9" stroke="#e01010" stroke-width="1.8"/>
<line x1="1296.7" y1="1096.2" x2="1321.6" y2="1129.4" stroke="#a80000" stroke-width="5"/>
<line x1="1296.7" y1="1096.2" x2="1321.6" y2="1129.4" stroke="#e01010" stroke-width="1.8"/>
<line x1="1296.7" y1="1096.2" x2="1329.9" y2="1126.5" stroke="#a80000" stroke-width="5"/>
<line x1="1296.7" y1="1096.2" x2="1329.9" y2="1126.5" stroke="#e01010" stroke-width="1.8"/>
<line x1="1324" y1="1092.6" x2="1358.4" y2="1100.9" stroke="#a80000" stroke-width="5"/>
<line x1="1324" y1="1092.6" x2="1358.4" y2="1100.9" stroke="#e01010" stroke-width="1.8"/>
<line x1="1324" y1="1092.6" x2="1321.6" y2="1129.4" stroke="#a80000" stroke-width="5"/>
<line x1="1324" y1="1092.6" x2="1321.6" y2="1129.4" stroke="#e01010" stroke-width="1.8"/>
<line x1="1324" y1="1092.6" x2="1329.9" y2="1126.5" stroke="#a80000" stroke-width="5"/>
<line x1="1324" y1="1092.6" x2="1329.9" y2="1126.5" stroke="#e01010" stroke-width="1.8"/>
<line x1="1358.4" y1="1100.9" x2="1321.6" y2="1129.4" stroke="#a80000" stroke-width="5"/>
<line x1="1358.4" y1="1100.9" x2="1321.6" y2="1129.4" stroke="#e01010" stroke-width="1.8"/>
<line x1="1358.4" y1="1100.9" x2="1329.9" y2="1126.5" stroke="#a80000" stroke-width="5"/>
<line x1="1358.4" y1="1100.9" x2="1329.9" y2="1126.5" stroke="#e01010" stroke-width="1.8"/>
<line x1="1321.6" y1="1129.4" x2="1329.9" y2="1126.5" stroke="#a80000" stroke-width="5"/>
<line x1="1321.6" y1="1129.4" x2="1329.9" y2="1126.5" stroke="#e01010" stroke-width="1.8"/>
<circle cx="1316.9" cy="1049.9" r="9.1" fill="url(#gr)"/>
<circle cx="1322.8" cy="1029.7" r="9.1" fill="url(#gr)"/>
<circle cx="1344.2" cy="1032.1" r="9.1" fill="url(#gr)"/>
<circle cx="1362" cy="1055.8" r="9.1" fill="url(#gr)"/>
<circle cx="1363.2" cy="1073.6" r="9.1" fill="url(#gr)"/>
<circle cx="1338.2" cy="1043.5" r="9.1" fill="url(#gr)"/>
<circle cx="1296.7" cy="1096.2" r="9.1" fill="url(#gr)"/>
<circle cx="1324" cy="1092.6" r="9.1" fill="url(#gr)"/>
<circle cx="1358.4" cy="1100.9" r="9.1" fill="url(#gr)"/>
<circle cx="1321.6" cy="1129.4" r="9.1" fill="url(#gr)"/>
<circle cx="1329.9" cy="1126.5" r="9.1" fill="url(#gr)"/>
<line x1="870.2" y1="1144.6" x2="894.6" y2="1127.7" stroke="#a80000" stroke-width="5"/>
<line x1="870.2" y1="1144.6" x2="894.6" y2="1127.7" stroke="#e01010" stroke-width="1.8"/>
<circle cx="870.2" cy="1144.6" r="9.1" fill="url(#gr)"/>
<circle cx="894.6" cy="1127.7" r="9.1" fill="url(#gr)"/>
<line x1="935.7" y1="1170.5" x2="915.7" y2="1186.3" stroke="#a80000" stroke-width="5"/>
<line x1="935.7" y1="1170.5" x2="915.7" y2="1186.3" stroke="#e01010" stroke-width="1.8"/>
<line x1="915.7" y1="1186.3" x2="856.6" y2="1224" stroke="#a80000" stroke-width="5"/>
<line x1="915.7" y1="1186.3" x2="856.6" y2="1224" stroke="#e01010" stroke-width="1.8"/>
<line x1="856.6" y1="1224" x2="852.9" y2="1253.5" stroke="#a80000" stroke-width="5"/>
<line x1="856.6" y1="1224" x2="852.9" y2="1253.5" stroke="#e01010" stroke-width="1.8"/>
<line x1="852.9" y1="1253.5" x2="856.6" y2="1297.4" stroke="#a80000" stroke-width="5"/>
<line x1="852.9" y1="1253.5" x2="856.6" y2="1297.4" stroke="#e01010" stroke-width="1.8"/>
<line x1="852.9" y1="1253.5" x2="850.7" y2="1307.2" stroke="#a80000" stroke-width="5"/>
<line x1="852.9" y1="1253.5" x2="850.7" y2="1307.2" stroke="#e01010" stroke-width="1.8"/>
<line x1="856.6" y1="1297.4" x2="895.5" y2="1330.4" stroke="#a80000" stroke-width="5"/>
<line x1="856.6" y1="1297.4" x2="895.5" y2="1330.4" stroke="#e01010" stroke-width="1.8"/>
<line x1="850.7" y1="1307.2" x2="895.5" y2="1330.4" stroke="#a80000" stroke-width="5"/>
<line x1="850.7" y1="1307.2" x2="895.5" y2="1330.4" stroke="#e01010" stroke-width="1.8"/>
<line x1="850.7" y1="1307.2" x2="876.9" y2="1353.2" stroke="#a80000" stroke-width="5"/>
<line x1="850.7" y1="1307.2" x2="876.9" y2="1353.2" stroke="#e01010" stroke-width="1.8"/>
<line x1="895.5" y1="1330.4" x2="876.9" y2="1353.2" stroke="#a80000" stroke-width="5"/>
<line x1="895.5" y1="1330.4" x2="876.9" y2="1353.2" stroke="#e01010" stroke-width="1.8"/>
<line x1="856.6" y1="1297.4" x2="876.9" y2="1353.2" stroke="#a80000" stroke-width="5"/>
<line x1="856.6" y1="1297.4" x2="876.9" y2="1353.2" stroke="#e01010" stroke-width="1.8"/>
<circle cx="935.7" cy="1170.5" r="9.1" fill="url(#gr)"/>
<circle cx="915.7" cy="1186.3" r="9.1" fill="url(#gr)"/>
<circle cx="856.6" cy="1224" r="9.1" fill="url(#gr)"/>
<circle cx="852.9" cy="1253.5" r="9.1" fill="url(#gr)"/>
<circle cx="856.6" cy="1297.4" r="9.1" fill="url(#gr)"/>
<circle cx="850.7" cy="1307.2" r="9.1" fill="url(#gr)"/>
<circle cx="895.5" cy="1330.4" r="9.1" fill="url(#gr)"/>
<circle cx="876.9" cy="1353.2" r="9.1" fill="url(#gr)"/>
<line x1="930.9" y1="1207.1" x2="918.3" y2="1227.4" stroke="#a80000" stroke-width="5"/>
<line x1="930.9" y1="1207.1" x2="918.3" y2="1227.4" stroke="#e01010" stroke-width="1.8"/>
<circle cx="930.9" cy="1207.1" r="9.1" fill="url(#gr)"/>
<circle cx="918.3" cy="1227.4" r="9.1" fill="url(#gr)"/>
<line x1="753.6" y1="1294.9" x2="766.3" y2="1320.2" stroke="#a80000" stroke-width="5"/>
<line x1="753.6" y1="1294.9" x2="766.3" y2="1320.2" stroke="#e01010" stroke-width="1.8"/>
<circle cx="753.6" cy="1294.9" r="9.1" fill="url(#gr)"/>
<circle cx="766.3" cy="1320.2" r="9.1" fill="url(#gr)"/>
<line x1="1042.4" y1="1339.3" x2="1061.1" y2="1359.1" stroke="#a80000" stroke-width="5"/>
<line x1="1042.4" y1="1339.3" x2="1061.1" y2="1359.1" stroke="#e01010" stroke-width="1.8"/>
<circle cx="1042.4" cy="1339.3" r="9.1" fill="url(#gr)"/>
<circle cx="1061.1" cy="1359.1" r="9.1" fill="url(#gr)"/>
<circle cx="1071.8" cy="1344.8" r="9.1" fill="url(#gr)"/>
<line x1="1179.8" y1="1283" x2="1188.3" y2="1307.3" stroke="#a80000" stroke-width="5"/>
<line x1="1179.8" y1="1283" x2="1188.3" y2="1307.3" stroke="#e01010" stroke-width="1.8"/>
<circle cx="1179.8" cy="1283" r="9.1" fill="url(#gr)"/>
<circle cx="1188.3" cy="1307.3" r="9.1" fill="url(#gr)"/>
<line x1="1258.2" y1="1294.1" x2="1287" y2="1285.6" stroke="#a80000" stroke-width="5"/>
<line x1="1258.2" y1="1294.1" x2="1287" y2="1285.6" stroke="#e01010" stroke-width="1.8"/>
<line x1="1298.7" y1="1294.5" x2="1323.6" y2="1284.5" stroke="#a80000" stroke-width="5"/>
<line x1="1298.7" y1="1294.5" x2="1323.6" y2="1284.5" stroke="#e01010" stroke-width="1.8"/>
<line x1="1298.7" y1="1294.5" x2="1339.1" y2="1300" stroke="#a80000" stroke-width="5"/>
<line x1="1298.7" y1="1294.5" x2="1339.1" y2="1300" stroke="#e01010" stroke-width="1.8"/>
<line x1="1323.6" y1="1284.5" x2="1339.1" y2="1300" stroke="#a80000" stroke-width="5"/>
<line x1="1323.6" y1="1284.5" x2="1339.1" y2="1300" stroke="#e01010" stroke-width="1.8"/>
<line x1="1287" y1="1285.6" x2="1298.7" y2="1294.5" stroke="#a80000" stroke-width="5"/>
<line x1="1287" y1="1285.6" x2="1298.7" y2="1294.5" stroke="#e01010" stroke-width="1.8"/>
<circle cx="1258.2" cy="1294.1" r="9.1" fill="url(#gr)"/>
<circle cx="1287" cy="1285.6" r="9.1" fill="url(#gr)"/>
<circle cx="1298.7" cy="1294.5" r="9.1" fill="url(#gr)"/>
<circle cx="1323.6" cy="1284.5" r="9.1" fill="url(#gr)"/>
<circle cx="1339.1" cy="1300" r="9.1" fill="url(#gr)"/>
<line x1="1523.4" y1="1393.7" x2="1532" y2="1420.3" stroke="#a80000" stroke-width="5"/>
<line x1="1523.4" y1="1393.7" x2="1532" y2="1420.3" stroke="#e01010" stroke-width="1.8"/>
<circle cx="1523.4" cy="1393.7" r="9.1" fill="url(#gr)"/>
<circle cx="1532" cy="1420.3" r="9.1" fill="url(#gr)"/>
</g>
<g id="pc">
<line x1="125" y1="692.8" x2="1552.4" y2="690" stroke="#000" stroke-width="2.0" />
<line x1="125" y1="731.8" x2="1551.8" y2="728.8" stroke="#000" stroke-width="2.0" />
<line x1="125" y1="1392.7" x2="1551.8" y2="1390.7" stroke="#000" stroke-width="2.0" />
<line x1="125" y1="1432.7" x2="1551.8" y2="1429.8" stroke="#000" stroke-width="2.0" />
<line x1="125" y1="692.8" x2="125" y2="1432.7" stroke="#222" stroke-width="1.6" stroke-dasharray="6 4.2"/>
<line x1="1552.4" y1="690" x2="1602.5" y2="688.2" stroke="#222" stroke-width="1.6" stroke-dasharray="6 4.2"/>
<line x1="1551.8" y1="728.8" x2="1602.5" y2="688.2" stroke="#222" stroke-width="1.6" stroke-dasharray="6 4.2"/>
<line x1="1551.8" y1="728.8" x2="1551.8" y2="1429.8" stroke="#222" stroke-width="1.6" stroke-dasharray="6 4.2"/>
<line x1="1602.5" y1="688.2" x2="1602.5" y2="1381.4" stroke="#222" stroke-width="1.6" stroke-dasharray="6 4.2"/>
<line x1="1551.8" y1="1390.7" x2="1601.8" y2="1389.4" stroke="#222" stroke-width="1.6" stroke-dasharray="6 4.2"/>
<line x1="1551.8" y1="1429.8" x2="1604.3" y2="1381.4" stroke="#222" stroke-width="1.6" stroke-dasharray="6 4.2"/>
</g>
<g font-family="'Liberation Sans', Arial, Helvetica, sans-serif" fill="#000">
<text transform="translate(131.6,1476.5) scale(1.08,1)" font-size="54" text-anchor="middle" font-weight="normal">20</text>
<text transform="translate(368.6,1476.5) scale(1.08,1)" font-size="54" text-anchor="middle" font-weight="normal">40</text>
<text transform="translate(526.6,1476.5) scale(1.08,1)" font-size="54" text-anchor="middle" font-weight="normal">50</text>
<text transform="translate(700.5,1476.5) scale(1.08,1)" font-size="54" text-anchor="middle" font-weight="normal">60</text>
<text transform="translate(813.6,1478.2) scale(1.03,1)" font-size="55" text-anchor="middle" font-weight="normal">Å</text>
<text x="1010.6" y="878.7" font-size="51" text-anchor="middle" font-weight="bold" >(c)</text>
<text x="1373" y="1196" font-size="42" text-anchor="middle" font-weight="bold" >y</text>
<text x="1482" y="1221.8" font-size="42" text-anchor="middle" font-weight="bold" >x</text>
<text x="1533" y="1276.6" font-size="42" text-anchor="middle" font-weight="bold" >z</text>
</g>
<line x1="1405.4" y1="1265" x2="1405.4" y2="1175" stroke="#000" stroke-width="3.2" />
<polygon points="1405.4,1158.3 1398.9,1177 1411.9,1177" fill="#000"/>
<line x1="1404" y1="1265" x2="1496" y2="1265" stroke="#000" stroke-width="3.2" />
<polygon points="1512.5,1265 1494.3,1258.7 1494.3,1271.5" fill="#000"/>
<line x1="1405.4" y1="1265" x2="1452" y2="1233" stroke="#000" stroke-width="3.2" />
<polygon points="1463.8,1224.9 1445,1230.3 1451.6,1240.7" fill="#000"/>
</svg>
</body></html>
